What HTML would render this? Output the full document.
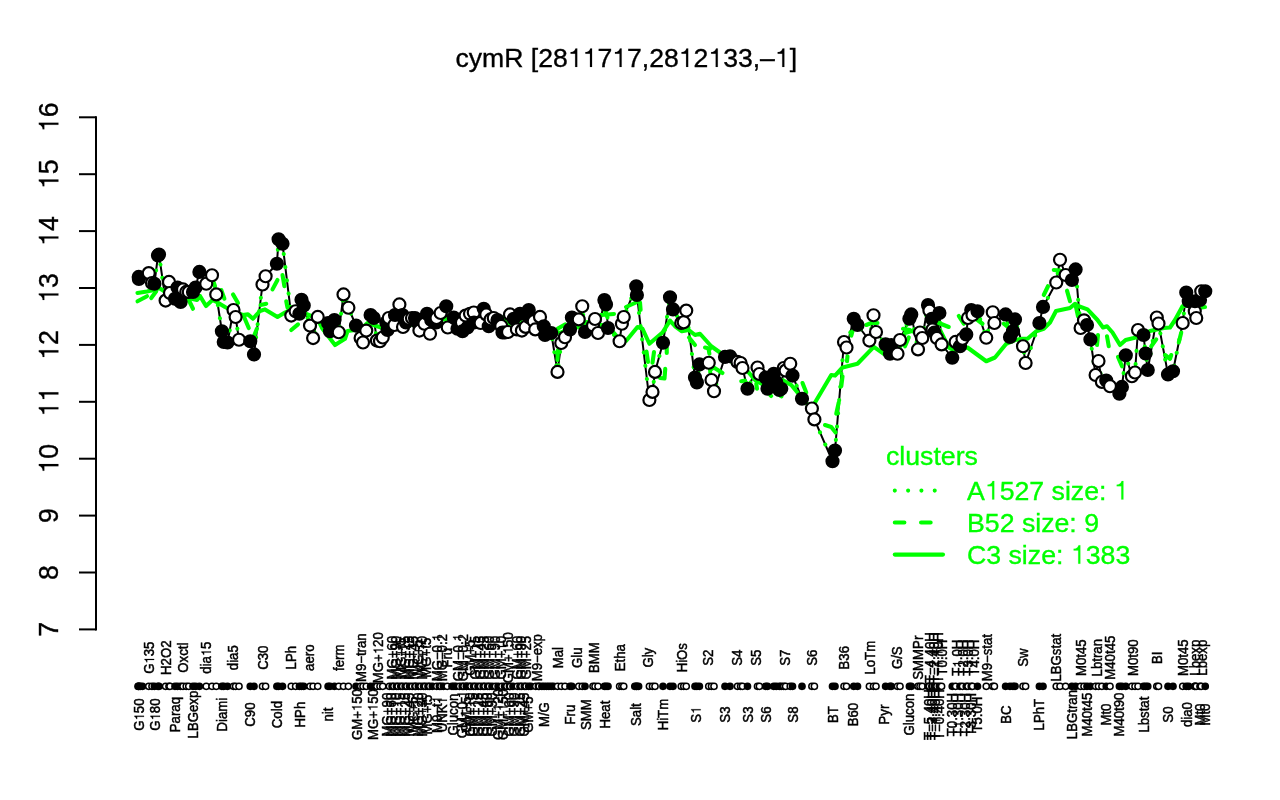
<!DOCTYPE html>
<html><head><meta charset="utf-8"><title>cymR</title>
<style>html,body{margin:0;padding:0;background:#fff;}body{width:1280px;height:800px;overflow:hidden;}svg{display:block;will-change:transform;}text{font-family:"Liberation Sans", sans-serif;}</style>
</head><body>
<svg width="1280" height="800" viewBox="0 0 1280 800">
<rect x="0" y="0" width="1280" height="800" fill="#ffffff"/>
<g transform="translate(626.30 66.90)" fill="#000" stroke="#000" stroke-width="0.35" font-size="26.6" text-anchor="start" style="font-kerning:none"><text x="-170.81" y="0" xml:space="preserve">cymR [28</text><path transform="translate(-58.47 0) scale(0.02660)" stroke-width="5.26" d="M104 -498 L104 -556 C190 -556 258 -590 290 -692 L354 -692 L354 0 L276 0 L276 -498 Z"/><path transform="translate(-43.68 0) scale(0.02660)" stroke-width="5.26" d="M104 -498 L104 -556 C190 -556 258 -590 290 -692 L354 -692 L354 0 L276 0 L276 -498 Z"/><text x="-28.89" y="0" xml:space="preserve">7</text><path transform="translate(-14.09 0) scale(0.02660)" stroke-width="5.26" d="M104 -498 L104 -556 C190 -556 258 -590 290 -692 L354 -692 L354 0 L276 0 L276 -498 Z"/><text x="0.70" y="0" xml:space="preserve">7,28</text><path transform="translate(52.47 0) scale(0.02660)" stroke-width="5.26" d="M104 -498 L104 -556 C190 -556 258 -590 290 -692 L354 -692 L354 0 L276 0 L276 -498 Z"/><text x="67.27" y="0" xml:space="preserve">2</text><path transform="translate(82.06 0) scale(0.02660)" stroke-width="5.26" d="M104 -498 L104 -556 C190 -556 258 -590 290 -692 L354 -692 L354 0 L276 0 L276 -498 Z"/><text x="96.85" y="0" xml:space="preserve">33,–</text><path transform="translate(148.62 0) scale(0.02660)" stroke-width="5.26" d="M104 -498 L104 -556 C190 -556 258 -590 290 -692 L354 -692 L354 0 L276 0 L276 -498 Z"/><text x="163.42" y="0" xml:space="preserve">]</text></g>
<g stroke="#000" stroke-width="2" fill="none" stroke-linecap="butt">
<path d="M96.0 116.30 V630.40"/>
<path d="M79 629.40 H96.0"/>
<path d="M79 572.50 H96.0"/>
<path d="M79 515.60 H96.0"/>
<path d="M79 458.70 H96.0"/>
<path d="M79 401.80 H96.0"/>
<path d="M79 344.90 H96.0"/>
<path d="M79 288.00 H96.0"/>
<path d="M79 231.10 H96.0"/>
<path d="M79 174.20 H96.0"/>
<path d="M79 117.30 H96.0"/>
</g>
<g transform="translate(58.40 629.40) rotate(-90) scale(1 1.06)" fill="#000" stroke="#000" stroke-width="0.35" font-size="26.7" text-anchor="start" style="font-kerning:none"><text x="-7.42" y="0" xml:space="preserve">7</text></g>
<g transform="translate(58.40 572.50) rotate(-90) scale(1 1.06)" fill="#000" stroke="#000" stroke-width="0.35" font-size="26.7" text-anchor="start" style="font-kerning:none"><text x="-7.42" y="0" xml:space="preserve">8</text></g>
<g transform="translate(58.40 515.60) rotate(-90) scale(1 1.06)" fill="#000" stroke="#000" stroke-width="0.35" font-size="26.7" text-anchor="start" style="font-kerning:none"><text x="-7.42" y="0" xml:space="preserve">9</text></g>
<g transform="translate(58.40 458.70) rotate(-90) scale(1 1.06)" fill="#000" stroke="#000" stroke-width="0.35" font-size="26.7" text-anchor="start" style="font-kerning:none"><path transform="translate(-14.85 0) scale(0.02670)" stroke-width="5.24" d="M104 -498 L104 -556 C190 -556 258 -590 290 -692 L354 -692 L354 0 L276 0 L276 -498 Z"/><text x="0.00" y="0" xml:space="preserve">0</text></g>
<g transform="translate(58.40 401.80) rotate(-90) scale(1 1.06)" fill="#000" stroke="#000" stroke-width="0.35" font-size="26.7" text-anchor="start" style="font-kerning:none"><path transform="translate(-14.85 0) scale(0.02670)" stroke-width="5.24" d="M104 -498 L104 -556 C190 -556 258 -590 290 -692 L354 -692 L354 0 L276 0 L276 -498 Z"/><path transform="translate(0.00 0) scale(0.02670)" stroke-width="5.24" d="M104 -498 L104 -556 C190 -556 258 -590 290 -692 L354 -692 L354 0 L276 0 L276 -498 Z"/></g>
<g transform="translate(58.40 344.90) rotate(-90) scale(1 1.06)" fill="#000" stroke="#000" stroke-width="0.35" font-size="26.7" text-anchor="start" style="font-kerning:none"><path transform="translate(-14.85 0) scale(0.02670)" stroke-width="5.24" d="M104 -498 L104 -556 C190 -556 258 -590 290 -692 L354 -692 L354 0 L276 0 L276 -498 Z"/><text x="0.00" y="0" xml:space="preserve">2</text></g>
<g transform="translate(58.40 288.00) rotate(-90) scale(1 1.06)" fill="#000" stroke="#000" stroke-width="0.35" font-size="26.7" text-anchor="start" style="font-kerning:none"><path transform="translate(-14.85 0) scale(0.02670)" stroke-width="5.24" d="M104 -498 L104 -556 C190 -556 258 -590 290 -692 L354 -692 L354 0 L276 0 L276 -498 Z"/><text x="0.00" y="0" xml:space="preserve">3</text></g>
<g transform="translate(58.40 231.10) rotate(-90) scale(1 1.06)" fill="#000" stroke="#000" stroke-width="0.35" font-size="26.7" text-anchor="start" style="font-kerning:none"><path transform="translate(-14.85 0) scale(0.02670)" stroke-width="5.24" d="M104 -498 L104 -556 C190 -556 258 -590 290 -692 L354 -692 L354 0 L276 0 L276 -498 Z"/><text x="0.00" y="0" xml:space="preserve">4</text></g>
<g transform="translate(58.40 174.20) rotate(-90) scale(1 1.06)" fill="#000" stroke="#000" stroke-width="0.35" font-size="26.7" text-anchor="start" style="font-kerning:none"><path transform="translate(-14.85 0) scale(0.02670)" stroke-width="5.24" d="M104 -498 L104 -556 C190 -556 258 -590 290 -692 L354 -692 L354 0 L276 0 L276 -498 Z"/><text x="0.00" y="0" xml:space="preserve">5</text></g>
<g transform="translate(58.40 117.30) rotate(-90) scale(1 1.06)" fill="#000" stroke="#000" stroke-width="0.35" font-size="26.7" text-anchor="start" style="font-kerning:none"><path transform="translate(-14.85 0) scale(0.02670)" stroke-width="5.24" d="M104 -498 L104 -556 C190 -556 258 -590 290 -692 L354 -692 L354 0 L276 0 L276 -498 Z"/><text x="0.00" y="0" xml:space="preserve">6</text></g>
<path d="M138.70 276.90 L138.90 279.00 L148.75 273.10 L152.00 283.00 L154.40 283.75 L158.00 255.50 L159.00 254.50 L165.60 300.60 L169.00 281.90 L170.00 293.00 L175.00 298.75 L177.50 287.50 L180.60 301.90 L183.00 289.40 L186.25 291.90 L188.75 292.00 L193.00 291.90 L195.60 287.50 L199.40 271.90 L206.25 283.75 L212.00 275.25 L216.25 294.40 L221.90 331.25 L223.75 341.90 L227.50 342.50 L233.50 310.00 L235.60 317.00 L239.00 339.75 L250.25 341.25 L254.00 354.40 L262.50 284.50 L265.60 276.25 L276.90 263.75 L278.60 239.30 L282.50 243.75 L291.25 315.60 L295.60 311.25 L299.40 313.75 L301.50 299.75 L303.75 305.60 L310.00 325.60 L313.10 338.10 L317.75 316.90 L328.10 323.10 L330.00 331.25 L334.40 320.00 L338.75 332.25 L343.50 294.40 L348.40 307.75 L356.00 325.60 L360.60 338.00 L363.00 342.50 L366.25 330.60 L370.60 315.00 L373.75 318.00 L376.90 340.60 L380.00 341.25 L382.75 337.50 L386.25 322.50 L387.50 330.00 L388.75 318.00 L394.40 325.00 L395.00 315.00 L399.40 304.40 L402.50 315.00 L403.00 327.00 L406.00 322.50 L408.75 318.75 L412.00 318.00 L415.00 318.00 L417.50 322.50 L419.40 330.60 L424.40 323.75 L427.00 313.75 L430.00 333.75 L431.25 320.00 L436.25 322.50 L436.50 318.00 L440.60 313.00 L446.25 306.25 L447.75 327.50 L453.75 317.50 L457.50 328.75 L461.90 322.50 L462.50 331.25 L465.60 315.60 L467.50 327.50 L470.00 313.75 L473.75 312.50 L474.00 322.50 L480.60 323.00 L483.75 308.75 L486.25 314.40 L488.75 326.25 L490.60 319.40 L493.75 318.00 L497.50 320.00 L501.25 326.00 L502.50 332.50 L505.00 332.50 L508.00 332.00 L510.00 314.40 L513.75 318.75 L516.90 329.40 L520.00 313.75 L521.90 330.60 L525.60 326.90 L528.75 310.00 L529.40 317.50 L533.75 321.25 L535.25 329.40 L540.00 316.90 L543.75 326.25 L545.00 335.00 L551.25 333.00 L557.50 371.90 L561.25 343.00 L565.00 337.25 L570.00 329.40 L571.90 317.50 L578.75 319.40 L582.25 306.25 L585.00 331.90 L593.00 325.60 L595.00 319.00 L598.00 333.00 L604.40 300.00 L606.00 304.40 L608.00 328.00 L619.60 341.25 L621.90 323.75 L623.75 317.00 L636.25 286.25 L636.90 295.00 L649.40 400.00 L652.50 391.90 L655.00 371.90 L663.00 342.75 L670.00 297.25 L673.00 309.40 L681.25 323.00 L683.75 322.25 L686.25 310.60 L695.00 377.50 L696.90 382.50 L699.40 364.40 L708.75 362.75 L711.50 380.00 L714.00 391.25 L725.00 356.90 L730.00 356.25 L737.50 361.90 L740.60 363.00 L742.50 368.00 L747.50 388.75 L757.50 367.50 L759.40 374.00 L765.60 377.50 L767.50 388.75 L773.75 373.75 L776.25 382.00 L779.40 390.00 L781.25 388.75 L783.75 368.00 L785.60 370.60 L790.25 363.75 L792.50 375.60 L802.00 398.75 L811.90 408.50 L814.40 419.40 L832.50 461.25 L835.00 450.60 L844.00 342.00 L846.50 347.50 L853.75 318.75 L857.50 325.00 L869.40 340.60 L873.50 315.25 L876.00 332.00 L885.60 344.40 L890.00 353.75 L891.25 345.00 L897.50 353.75 L900.00 340.00 L909.40 318.75 L911.25 314.40 L918.00 349.40 L920.00 332.50 L922.25 338.00 L928.00 305.00 L929.40 310.60 L931.90 318.75 L932.50 329.40 L934.40 332.50 L936.90 338.00 L939.40 313.00 L941.60 344.40 L952.25 357.75 L955.60 341.90 L960.00 346.25 L962.50 338.75 L966.25 334.40 L968.00 318.00 L971.25 310.00 L972.50 315.00 L977.50 311.25 L986.25 337.75 L992.75 312.25 L994.40 323.00 L1005.60 314.40 L1010.00 336.90 L1013.00 331.25 L1015.00 319.40 L1023.00 346.25 L1025.60 363.00 L1039.40 323.00 L1043.00 306.90 L1056.25 282.50 L1060.00 259.75 L1065.60 275.00 L1071.90 280.00 L1075.60 269.40 L1080.60 328.00 L1084.00 320.30 L1087.00 325.00 L1090.40 339.40 L1095.60 375.00 L1098.50 361.00 L1101.90 381.90 L1106.25 380.60 L1110.00 386.25 L1119.40 393.75 L1121.90 386.90 L1125.80 355.25 L1131.90 376.25 L1135.00 372.50 L1138.00 330.00 L1143.50 335.00 L1145.60 353.50 L1147.75 370.00 L1156.80 317.50 L1158.50 323.50 L1168.00 374.40 L1173.00 371.25 L1182.70 323.00 L1186.25 292.50 L1188.75 301.25 L1194.75 311.25 L1195.00 301.25 L1196.25 318.00 L1200.00 300.00 L1201.25 291.25 L1205.25 291.25" fill="none" stroke="#000" stroke-width="2.0" stroke-linejoin="round" stroke-linecap="round"/>
<path d="M138.70 276.90 L138.90 279.00 L148.75 273.10 L152.00 283.00 L154.40 283.75 L158.00 255.50 L159.00 254.50 L165.60 300.60 L169.00 281.90 L170.00 293.00 L175.00 298.75 L177.50 287.50 L180.60 301.90 L183.00 289.40 L186.25 291.90 L188.75 292.00 L193.00 291.90 L195.60 287.50 L199.40 271.90 L206.25 283.75 L212.00 275.25 L216.25 294.40 L221.90 331.25 L223.75 341.90 L227.50 342.50 L233.50 310.00 L235.60 317.00 L239.00 339.75 L250.25 341.25 L254.00 354.40 L262.50 284.50 L265.60 276.25 L276.90 263.75 L278.60 239.30 L282.50 243.75 L291.25 315.60 L295.60 311.25 L299.40 313.75 L301.50 299.75 L303.75 305.60 L310.00 325.60 L313.10 338.10 L317.75 316.90 L328.10 323.10 L330.00 331.25 L334.40 320.00 L338.75 332.25 L343.50 294.40 L348.40 307.75 L356.00 325.60 L360.60 338.00 L363.00 342.50 L366.25 330.60 L370.60 315.00 L373.75 318.00 L376.90 340.60 L380.00 341.25 L382.75 337.50 L386.25 322.50 L387.50 330.00 L388.75 318.00 L394.40 325.00 L395.00 315.00 L399.40 304.40 L402.50 315.00 L403.00 327.00 L406.00 322.50 L408.75 318.75 L412.00 318.00 L415.00 318.00 L417.50 322.50 L419.40 330.60 L424.40 323.75 L427.00 313.75 L430.00 333.75 L431.25 320.00 L436.25 322.50 L436.50 318.00 L440.60 313.00 L446.25 306.25 L447.75 327.50 L453.75 317.50 L457.50 328.75 L461.90 322.50 L462.50 331.25 L465.60 315.60 L467.50 327.50 L470.00 313.75 L473.75 312.50 L474.00 322.50 L480.60 323.00 L483.75 308.75 L486.25 314.40 L488.75 326.25 L490.60 319.40 L493.75 318.00 L497.50 320.00 L501.25 326.00 L502.50 332.50 L505.00 332.50 L508.00 332.00 L510.00 314.40 L513.75 318.75 L516.90 329.40 L520.00 313.75 L521.90 330.60 L525.60 326.90 L528.75 310.00 L529.40 317.50 L533.75 321.25 L535.25 329.40 L540.00 316.90 L543.75 326.25 L545.00 335.00 L551.25 333.00 L557.50 371.90 L561.25 343.00 L565.00 337.25 L570.00 329.40 L571.90 317.50 L578.75 319.40 L582.25 306.25 L585.00 331.90 L593.00 325.60 L595.00 319.00 L598.00 333.00 L604.40 300.00 L606.00 304.40 L608.00 328.00 L619.60 341.25 L621.90 323.75 L623.75 317.00 L636.25 286.25 L636.90 295.00 L649.40 400.00 L652.50 391.90 L655.00 371.90 L663.00 342.75 L670.00 297.25 L673.00 309.40 L681.25 323.00 L683.75 322.25 L686.25 310.60 L695.00 377.50 L696.90 382.50 L699.40 364.40 L708.75 362.75 L711.50 380.00 L714.00 391.25 L725.00 356.90 L730.00 356.25 L737.50 361.90 L740.60 363.00 L742.50 368.00 L747.50 388.75 L757.50 367.50 L759.40 374.00 L765.60 377.50 L767.50 388.75 L773.75 373.75 L776.25 382.00 L779.40 390.00 L781.25 388.75 L783.75 368.00 L785.60 370.60 L790.25 363.75 L792.50 375.60 L802.00 398.75 L811.90 408.50 L814.40 419.40 L832.50 461.25 L835.00 450.60 L844.00 342.00 L846.50 347.50 L853.75 318.75 L857.50 325.00 L869.40 340.60 L873.50 315.25 L876.00 332.00 L885.60 344.40 L890.00 353.75 L891.25 345.00 L897.50 353.75 L900.00 340.00 L909.40 318.75 L911.25 314.40 L918.00 349.40 L920.00 332.50 L922.25 338.00 L928.00 305.00 L929.40 310.60 L931.90 318.75 L932.50 329.40 L934.40 332.50 L936.90 338.00 L939.40 313.00 L941.60 344.40 L952.25 357.75 L955.60 341.90 L960.00 346.25 L962.50 338.75 L966.25 334.40 L968.00 318.00 L971.25 310.00 L972.50 315.00 L977.50 311.25 L986.25 337.75 L992.75 312.25 L994.40 323.00 L1005.60 314.40 L1010.00 336.90 L1013.00 331.25 L1015.00 319.40 L1023.00 346.25 L1025.60 363.00 L1039.40 323.00 L1043.00 306.90 L1056.25 282.50 L1060.00 259.75 L1065.60 275.00 L1071.90 280.00 L1075.60 269.40 L1080.60 328.00 L1084.00 320.30 L1087.00 325.00 L1090.40 339.40 L1095.60 375.00 L1098.50 361.00 L1101.90 381.90 L1106.25 380.60 L1110.00 386.25 L1119.40 393.75 L1121.90 386.90 L1125.80 355.25 L1131.90 376.25 L1135.00 372.50 L1138.00 330.00 L1143.50 335.00 L1145.60 353.50 L1147.75 370.00 L1156.80 317.50 L1158.50 323.50 L1168.00 374.40 L1173.00 371.25 L1182.70 323.00 L1186.25 292.50 L1188.75 301.25 L1194.75 311.25 L1195.00 301.25 L1196.25 318.00 L1200.00 300.00 L1201.25 291.25 L1205.25 291.25" fill="none" stroke="#00ff00" stroke-width="4.1" stroke-linecap="round" stroke-linejoin="round" stroke-dasharray="0.01 13.3"/>
<path d="M137.50 301.25 L147.00 296.25" fill="none" stroke="#00ff00" stroke-width="4.1" stroke-linecap="round" stroke-linejoin="round"/>
<path d="M151.25 298.00 L156.25 291.25" fill="none" stroke="#00ff00" stroke-width="4.1" stroke-linecap="round" stroke-linejoin="round"/>
<path d="M188.75 300.00 L193.00 308.75" fill="none" stroke="#00ff00" stroke-width="4.1" stroke-linecap="round" stroke-linejoin="round"/>
<path d="M213.75 282.50 L215.00 286.25" fill="none" stroke="#00ff00" stroke-width="4.1" stroke-linecap="round" stroke-linejoin="round"/>
<path d="M221.25 290.00 L224.40 298.75" fill="none" stroke="#00ff00" stroke-width="4.1" stroke-linecap="round" stroke-linejoin="round"/>
<path d="M233.00 294.40 L238.00 303.00" fill="none" stroke="#00ff00" stroke-width="4.1" stroke-linecap="round" stroke-linejoin="round"/>
<path d="M243.75 316.25 L248.75 328.00" fill="none" stroke="#00ff00" stroke-width="4.1" stroke-linecap="round" stroke-linejoin="round"/>
<path d="M254.40 335.00 L256.90 328.75" fill="none" stroke="#00ff00" stroke-width="4.1" stroke-linecap="round" stroke-linejoin="round"/>
<path d="M260.60 305.00 L266.25 303.75" fill="none" stroke="#00ff00" stroke-width="4.1" stroke-linecap="round" stroke-linejoin="round"/>
<path d="M272.50 289.40 L277.50 280.00" fill="none" stroke="#00ff00" stroke-width="4.1" stroke-linecap="round" stroke-linejoin="round"/>
<path d="M282.50 275.00 L284.40 286.25" fill="none" stroke="#00ff00" stroke-width="4.1" stroke-linecap="round" stroke-linejoin="round"/>
<path d="M286.25 301.25 L287.50 307.50" fill="none" stroke="#00ff00" stroke-width="4.1" stroke-linecap="round" stroke-linejoin="round"/>
<path d="M291.25 330.00 L298.00 324.40" fill="none" stroke="#00ff00" stroke-width="4.1" stroke-linecap="round" stroke-linejoin="round"/>
<path d="M557.50 328.75 L565.00 324.40" fill="none" stroke="#00ff00" stroke-width="4.1" stroke-linecap="round" stroke-linejoin="round"/>
<path d="M558.00 350.00 L557.50 360.00" fill="none" stroke="#00ff00" stroke-width="4.1" stroke-linecap="round" stroke-linejoin="round"/>
<path d="M601.00 315.00 L614.00 314.00" fill="none" stroke="#00ff00" stroke-width="4.1" stroke-linecap="round" stroke-linejoin="round"/>
<path d="M605.00 311.00 L607.50 317.50" fill="none" stroke="#00ff00" stroke-width="4.1" stroke-linecap="round" stroke-linejoin="round"/>
<path d="M626.00 307.00 L636.00 302.50" fill="none" stroke="#00ff00" stroke-width="4.1" stroke-linecap="round" stroke-linejoin="round"/>
<path d="M640.00 302.50 L640.60 310.00" fill="none" stroke="#00ff00" stroke-width="4.1" stroke-linecap="round" stroke-linejoin="round"/>
<path d="M646.50 351.50 L648.00 362.00" fill="none" stroke="#00ff00" stroke-width="4.1" stroke-linecap="round" stroke-linejoin="round"/>
<path d="M654.00 352.00 L652.50 362.75" fill="none" stroke="#00ff00" stroke-width="4.1" stroke-linecap="round" stroke-linejoin="round"/>
<path d="M666.75 347.75 L666.75 353.00" fill="none" stroke="#00ff00" stroke-width="4.1" stroke-linecap="round" stroke-linejoin="round"/>
<path d="M665.25 368.75 L664.50 378.50 L660.00 378.00" fill="none" stroke="#00ff00" stroke-width="4.1" stroke-linecap="round" stroke-linejoin="round"/>
<path d="M689.00 337.50 L695.00 345.00" fill="none" stroke="#00ff00" stroke-width="4.1" stroke-linecap="round" stroke-linejoin="round"/>
<path d="M705.00 347.50 L710.00 348.75" fill="none" stroke="#00ff00" stroke-width="4.1" stroke-linecap="round" stroke-linejoin="round"/>
<path d="M708.75 350.00 L709.40 353.75" fill="none" stroke="#00ff00" stroke-width="4.1" stroke-linecap="round" stroke-linejoin="round"/>
<path d="M710.00 370.00 L713.75 367.50 L722.50 373.00" fill="none" stroke="#00ff00" stroke-width="4.1" stroke-linecap="round" stroke-linejoin="round"/>
<path d="M741.25 381.25 L745.00 380.60" fill="none" stroke="#00ff00" stroke-width="4.1" stroke-linecap="round" stroke-linejoin="round"/>
<path d="M756.25 383.75 L757.00 388.75" fill="none" stroke="#00ff00" stroke-width="4.1" stroke-linecap="round" stroke-linejoin="round"/>
<path d="M770.30 395.20 L771.20 396.00" fill="none" stroke="#00ff00" stroke-width="4.1" stroke-linecap="round" stroke-linejoin="round"/>
<path d="M780.40 395.80 L781.60 396.30" fill="none" stroke="#00ff00" stroke-width="4.1" stroke-linecap="round" stroke-linejoin="round"/>
<path d="M802.50 383.00 L806.25 392.50" fill="none" stroke="#00ff00" stroke-width="4.1" stroke-linecap="round" stroke-linejoin="round"/>
<path d="M825.00 425.00 L831.25 427.00 L835.60 432.50" fill="none" stroke="#00ff00" stroke-width="4.1" stroke-linecap="round" stroke-linejoin="round"/>
<path d="M836.25 413.75 L838.75 402.50" fill="none" stroke="#00ff00" stroke-width="4.1" stroke-linecap="round" stroke-linejoin="round"/>
<path d="M841.25 386.25 L842.50 376.25" fill="none" stroke="#00ff00" stroke-width="4.1" stroke-linecap="round" stroke-linejoin="round"/>
<path d="M847.50 356.25 L847.00 361.25" fill="none" stroke="#00ff00" stroke-width="4.1" stroke-linecap="round" stroke-linejoin="round"/>
<path d="M852.50 331.25 L851.25 335.60" fill="none" stroke="#00ff00" stroke-width="4.1" stroke-linecap="round" stroke-linejoin="round"/>
<path d="M866.25 325.00 L871.25 323.00 L877.50 323.00" fill="none" stroke="#00ff00" stroke-width="4.1" stroke-linecap="round" stroke-linejoin="round"/>
<path d="M903.00 328.75 L910.00 330.00" fill="none" stroke="#00ff00" stroke-width="4.1" stroke-linecap="round" stroke-linejoin="round"/>
<path d="M905.00 346.25 L908.75 337.50" fill="none" stroke="#00ff00" stroke-width="4.1" stroke-linecap="round" stroke-linejoin="round"/>
<path d="M937.50 322.50 L948.75 327.00" fill="none" stroke="#00ff00" stroke-width="4.1" stroke-linecap="round" stroke-linejoin="round"/>
<path d="M958.75 316.00 L963.75 323.75" fill="none" stroke="#00ff00" stroke-width="4.1" stroke-linecap="round" stroke-linejoin="round"/>
<path d="M977.50 320.00 L982.50 323.75" fill="none" stroke="#00ff00" stroke-width="4.1" stroke-linecap="round" stroke-linejoin="round"/>
<path d="M1003.75 323.75 L1010.00 328.75" fill="none" stroke="#00ff00" stroke-width="4.1" stroke-linecap="round" stroke-linejoin="round"/>
<path d="M1043.75 295.00 L1048.00 286.25" fill="none" stroke="#00ff00" stroke-width="4.1" stroke-linecap="round" stroke-linejoin="round"/>
<path d="M1053.75 270.00 L1060.00 270.60" fill="none" stroke="#00ff00" stroke-width="4.1" stroke-linecap="round" stroke-linejoin="round"/>
<path d="M1067.00 290.60 L1070.00 301.25" fill="none" stroke="#00ff00" stroke-width="4.1" stroke-linecap="round" stroke-linejoin="round"/>
<path d="M1075.60 305.00 L1078.00 316.25" fill="none" stroke="#00ff00" stroke-width="4.1" stroke-linecap="round" stroke-linejoin="round"/>
<path d="M1098.00 335.00 L1097.00 345.00" fill="none" stroke="#00ff00" stroke-width="4.1" stroke-linecap="round" stroke-linejoin="round"/>
<path d="M1107.00 336.25 L1108.75 346.25" fill="none" stroke="#00ff00" stroke-width="4.1" stroke-linecap="round" stroke-linejoin="round"/>
<path d="M1118.00 357.00 L1122.00 366.25" fill="none" stroke="#00ff00" stroke-width="4.1" stroke-linecap="round" stroke-linejoin="round"/>
<path d="M1156.25 339.40 L1151.25 346.25" fill="none" stroke="#00ff00" stroke-width="4.1" stroke-linecap="round" stroke-linejoin="round"/>
<path d="M1165.00 355.00 L1170.00 358.75 L1171.25 355.00" fill="none" stroke="#00ff00" stroke-width="4.1" stroke-linecap="round" stroke-linejoin="round"/>
<path d="M1178.75 342.50 L1181.25 332.50" fill="none" stroke="#00ff00" stroke-width="4.1" stroke-linecap="round" stroke-linejoin="round"/>
<path d="M137.50 293.00 L147.00 291.50 L154.00 290.00 L159.00 288.00 L164.00 291.00 L175.00 296.00 L188.00 298.00 L197.00 300.00 L200.00 296.00 L206.00 306.00 L212.50 300.00 L217.50 302.50 L225.00 307.00 L233.00 311.00 L242.50 315.00 L248.00 314.40 L253.00 318.75 L260.00 311.00 L265.00 309.40 L277.50 317.00 L285.00 312.50 L290.00 310.00 L300.00 311.00 L307.50 314.40 L317.50 318.75 L322.50 328.75 L335.00 345.00 L345.00 338.75 L347.50 331.00 L355.00 330.00 L362.00 328.00 L367.50 323.00 L381.00 327.50 L395.00 323.00 L410.00 325.00 L430.00 322.00 L446.00 319.00 L460.00 324.00 L480.00 321.00 L503.75 317.50 L510.00 323.75 L525.00 322.00 L540.00 325.00 L550.00 330.00 L560.00 333.00 L570.00 328.00 L580.00 327.00 L587.00 322.00 L595.00 324.00 L608.00 326.00 L614.00 333.00 L620.00 340.00 L626.00 341.00 L637.50 327.00 L642.50 328.75 L649.40 343.75 L662.50 332.50 L670.00 320.60 L675.00 326.25 L681.90 331.25 L688.75 330.00 L695.00 335.00 L700.00 333.75 L711.25 346.25 L720.00 352.50 L728.00 360.00 L740.00 366.00 L748.75 372.50 L755.00 380.00 L762.00 384.00 L770.00 383.00 L776.00 381.00 L782.50 380.00 L791.25 385.00 L797.50 392.50 L803.00 399.00 L808.00 405.00 L812.00 407.00 L815.00 402.50 L831.25 375.00 L835.00 375.60 L842.50 367.50 L857.50 363.75 L873.75 346.90 L883.75 353.75 L890.00 356.00 L898.00 352.00 L905.00 333.00 L912.00 331.00 L920.00 335.00 L930.00 333.00 L940.00 330.00 L948.75 347.50 L955.00 351.00 L960.00 349.00 L967.50 347.50 L986.25 361.25 L995.00 357.50 L1006.25 343.75 L1015.00 340.00 L1022.50 338.75 L1027.50 338.75 L1036.25 331.25 L1043.75 328.75 L1050.00 322.50 L1056.00 311.00 L1070.00 308.00 L1075.00 303.75 L1078.75 306.25 L1087.50 309.40 L1097.50 320.00 L1103.00 327.50 L1107.00 326.25 L1112.50 332.50 L1120.00 345.00 L1125.60 340.00 L1133.75 338.00 L1142.00 335.00 L1150.00 331.00 L1163.75 328.00 L1170.00 327.50 L1175.00 320.00 L1182.50 306.25 L1190.00 305.00 L1198.00 308.00 L1205.00 307.00" fill="none" stroke="#00ff00" stroke-width="4.1" stroke-linecap="round" stroke-linejoin="round"/>
<g stroke="#000" stroke-width="2.2">
<circle cx="138.70" cy="276.90" r="6.0" fill="#000"/>
<circle cx="138.90" cy="279.00" r="6.0" fill="#000"/>
<circle cx="148.75" cy="273.10" r="6.0" fill="#fff"/>
<circle cx="152.00" cy="283.00" r="6.0" fill="#fff"/>
<circle cx="154.40" cy="283.75" r="6.0" fill="#000"/>
<circle cx="158.00" cy="255.50" r="6.0" fill="#000"/>
<circle cx="159.00" cy="254.50" r="6.0" fill="#000"/>
<circle cx="165.60" cy="300.60" r="6.0" fill="#fff"/>
<circle cx="169.00" cy="281.90" r="6.0" fill="#fff"/>
<circle cx="170.00" cy="293.00" r="6.0" fill="#fff"/>
<circle cx="175.00" cy="298.75" r="6.0" fill="#000"/>
<circle cx="177.50" cy="287.50" r="6.0" fill="#000"/>
<circle cx="180.60" cy="301.90" r="6.0" fill="#000"/>
<circle cx="183.00" cy="289.40" r="6.0" fill="#fff"/>
<circle cx="186.25" cy="291.90" r="6.0" fill="#fff"/>
<circle cx="188.75" cy="292.00" r="6.0" fill="#fff"/>
<circle cx="193.00" cy="291.90" r="6.0" fill="#000"/>
<circle cx="195.60" cy="287.50" r="6.0" fill="#000"/>
<circle cx="199.40" cy="271.90" r="6.0" fill="#000"/>
<circle cx="206.25" cy="283.75" r="6.0" fill="#fff"/>
<circle cx="212.00" cy="275.25" r="6.0" fill="#fff"/>
<circle cx="216.25" cy="294.40" r="6.0" fill="#fff"/>
<circle cx="221.90" cy="331.25" r="6.0" fill="#000"/>
<circle cx="223.75" cy="341.90" r="6.0" fill="#000"/>
<circle cx="227.50" cy="342.50" r="6.0" fill="#000"/>
<circle cx="233.50" cy="310.00" r="6.0" fill="#fff"/>
<circle cx="235.60" cy="317.00" r="6.0" fill="#fff"/>
<circle cx="239.00" cy="339.75" r="6.0" fill="#fff"/>
<circle cx="250.25" cy="341.25" r="6.0" fill="#000"/>
<circle cx="254.00" cy="354.40" r="6.0" fill="#000"/>
<circle cx="262.50" cy="284.50" r="6.0" fill="#fff"/>
<circle cx="265.60" cy="276.25" r="6.0" fill="#fff"/>
<circle cx="276.90" cy="263.75" r="6.0" fill="#000"/>
<circle cx="278.60" cy="239.30" r="6.0" fill="#000"/>
<circle cx="282.50" cy="243.75" r="6.0" fill="#000"/>
<circle cx="291.25" cy="315.60" r="6.0" fill="#fff"/>
<circle cx="295.60" cy="311.25" r="6.0" fill="#fff"/>
<circle cx="299.40" cy="313.75" r="6.0" fill="#000"/>
<circle cx="301.50" cy="299.75" r="6.0" fill="#000"/>
<circle cx="303.75" cy="305.60" r="6.0" fill="#000"/>
<circle cx="310.00" cy="325.60" r="6.0" fill="#fff"/>
<circle cx="313.10" cy="338.10" r="6.0" fill="#fff"/>
<circle cx="317.75" cy="316.90" r="6.0" fill="#fff"/>
<circle cx="328.10" cy="323.10" r="6.0" fill="#000"/>
<circle cx="330.00" cy="331.25" r="6.0" fill="#000"/>
<circle cx="334.40" cy="320.00" r="6.0" fill="#000"/>
<circle cx="338.75" cy="332.25" r="6.0" fill="#fff"/>
<circle cx="343.50" cy="294.40" r="6.0" fill="#fff"/>
<circle cx="348.40" cy="307.75" r="6.0" fill="#fff"/>
<circle cx="356.00" cy="325.60" r="6.0" fill="#000"/>
<circle cx="360.60" cy="338.00" r="6.0" fill="#fff"/>
<circle cx="363.00" cy="342.50" r="6.0" fill="#fff"/>
<circle cx="366.25" cy="330.60" r="6.0" fill="#fff"/>
<circle cx="370.60" cy="315.00" r="6.0" fill="#000"/>
<circle cx="373.75" cy="318.00" r="6.0" fill="#000"/>
<circle cx="376.90" cy="340.60" r="6.0" fill="#fff"/>
<circle cx="380.00" cy="341.25" r="6.0" fill="#fff"/>
<circle cx="382.75" cy="337.50" r="6.0" fill="#fff"/>
<circle cx="386.25" cy="322.50" r="6.0" fill="#000"/>
<circle cx="387.50" cy="330.00" r="6.0" fill="#000"/>
<circle cx="388.75" cy="318.00" r="6.0" fill="#fff"/>
<circle cx="394.40" cy="325.00" r="6.0" fill="#fff"/>
<circle cx="395.00" cy="315.00" r="6.0" fill="#000"/>
<circle cx="399.40" cy="304.40" r="6.0" fill="#fff"/>
<circle cx="402.50" cy="315.00" r="6.0" fill="#000"/>
<circle cx="403.00" cy="327.00" r="6.0" fill="#fff"/>
<circle cx="406.00" cy="322.50" r="6.0" fill="#000"/>
<circle cx="408.75" cy="318.75" r="6.0" fill="#fff"/>
<circle cx="412.00" cy="318.00" r="6.0" fill="#fff"/>
<circle cx="415.00" cy="318.00" r="6.0" fill="#000"/>
<circle cx="417.50" cy="322.50" r="6.0" fill="#000"/>
<circle cx="419.40" cy="330.60" r="6.0" fill="#fff"/>
<circle cx="424.40" cy="323.75" r="6.0" fill="#fff"/>
<circle cx="427.00" cy="313.75" r="6.0" fill="#000"/>
<circle cx="430.00" cy="333.75" r="6.0" fill="#fff"/>
<circle cx="431.25" cy="320.00" r="6.0" fill="#000"/>
<circle cx="436.25" cy="322.50" r="6.0" fill="#000"/>
<circle cx="436.50" cy="318.00" r="6.0" fill="#fff"/>
<circle cx="440.60" cy="313.00" r="6.0" fill="#fff"/>
<circle cx="446.25" cy="306.25" r="6.0" fill="#000"/>
<circle cx="447.75" cy="327.50" r="6.0" fill="#fff"/>
<circle cx="453.75" cy="317.50" r="6.0" fill="#000"/>
<circle cx="457.50" cy="328.75" r="6.0" fill="#000"/>
<circle cx="461.90" cy="322.50" r="6.0" fill="#fff"/>
<circle cx="462.50" cy="331.25" r="6.0" fill="#000"/>
<circle cx="465.60" cy="315.60" r="6.0" fill="#fff"/>
<circle cx="467.50" cy="327.50" r="6.0" fill="#000"/>
<circle cx="470.00" cy="313.75" r="6.0" fill="#fff"/>
<circle cx="473.75" cy="312.50" r="6.0" fill="#fff"/>
<circle cx="474.00" cy="322.50" r="6.0" fill="#000"/>
<circle cx="480.60" cy="323.00" r="6.0" fill="#fff"/>
<circle cx="483.75" cy="308.75" r="6.0" fill="#000"/>
<circle cx="486.25" cy="314.40" r="6.0" fill="#fff"/>
<circle cx="488.75" cy="326.25" r="6.0" fill="#000"/>
<circle cx="490.60" cy="319.40" r="6.0" fill="#fff"/>
<circle cx="493.75" cy="318.00" r="6.0" fill="#fff"/>
<circle cx="497.50" cy="320.00" r="6.0" fill="#000"/>
<circle cx="501.25" cy="326.00" r="6.0" fill="#fff"/>
<circle cx="502.50" cy="332.50" r="6.0" fill="#000"/>
<circle cx="505.00" cy="332.50" r="6.0" fill="#000"/>
<circle cx="508.00" cy="332.00" r="6.0" fill="#fff"/>
<circle cx="510.00" cy="314.40" r="6.0" fill="#fff"/>
<circle cx="513.75" cy="318.75" r="6.0" fill="#000"/>
<circle cx="516.90" cy="329.40" r="6.0" fill="#fff"/>
<circle cx="520.00" cy="313.75" r="6.0" fill="#000"/>
<circle cx="521.90" cy="330.60" r="6.0" fill="#fff"/>
<circle cx="525.60" cy="326.90" r="6.0" fill="#fff"/>
<circle cx="528.75" cy="310.00" r="6.0" fill="#000"/>
<circle cx="529.40" cy="317.50" r="6.0" fill="#000"/>
<circle cx="533.75" cy="321.25" r="6.0" fill="#fff"/>
<circle cx="535.25" cy="329.40" r="6.0" fill="#fff"/>
<circle cx="540.00" cy="316.90" r="6.0" fill="#fff"/>
<circle cx="543.75" cy="326.25" r="6.0" fill="#000"/>
<circle cx="545.00" cy="335.00" r="6.0" fill="#000"/>
<circle cx="551.25" cy="333.00" r="6.0" fill="#000"/>
<circle cx="557.50" cy="371.90" r="6.0" fill="#fff"/>
<circle cx="561.25" cy="343.00" r="6.0" fill="#fff"/>
<circle cx="565.00" cy="337.25" r="6.0" fill="#fff"/>
<circle cx="570.00" cy="329.40" r="6.0" fill="#000"/>
<circle cx="571.90" cy="317.50" r="6.0" fill="#000"/>
<circle cx="578.75" cy="319.40" r="6.0" fill="#fff"/>
<circle cx="582.25" cy="306.25" r="6.0" fill="#fff"/>
<circle cx="585.00" cy="331.90" r="6.0" fill="#000"/>
<circle cx="593.00" cy="325.60" r="6.0" fill="#fff"/>
<circle cx="595.00" cy="319.00" r="6.0" fill="#fff"/>
<circle cx="598.00" cy="333.00" r="6.0" fill="#fff"/>
<circle cx="604.40" cy="300.00" r="6.0" fill="#000"/>
<circle cx="606.00" cy="304.40" r="6.0" fill="#000"/>
<circle cx="608.00" cy="328.00" r="6.0" fill="#000"/>
<circle cx="619.60" cy="341.25" r="6.0" fill="#fff"/>
<circle cx="621.90" cy="323.75" r="6.0" fill="#fff"/>
<circle cx="623.75" cy="317.00" r="6.0" fill="#fff"/>
<circle cx="636.25" cy="286.25" r="6.0" fill="#000"/>
<circle cx="636.90" cy="295.00" r="6.0" fill="#000"/>
<circle cx="649.40" cy="400.00" r="6.0" fill="#fff"/>
<circle cx="652.50" cy="391.90" r="6.0" fill="#fff"/>
<circle cx="655.00" cy="371.90" r="6.0" fill="#fff"/>
<circle cx="663.00" cy="342.75" r="6.0" fill="#000"/>
<circle cx="670.00" cy="297.25" r="6.0" fill="#000"/>
<circle cx="673.00" cy="309.40" r="6.0" fill="#000"/>
<circle cx="681.25" cy="323.00" r="6.0" fill="#fff"/>
<circle cx="683.75" cy="322.25" r="6.0" fill="#fff"/>
<circle cx="686.25" cy="310.60" r="6.0" fill="#fff"/>
<circle cx="695.00" cy="377.50" r="6.0" fill="#000"/>
<circle cx="696.90" cy="382.50" r="6.0" fill="#000"/>
<circle cx="699.40" cy="364.40" r="6.0" fill="#000"/>
<circle cx="708.75" cy="362.75" r="6.0" fill="#fff"/>
<circle cx="711.50" cy="380.00" r="6.0" fill="#fff"/>
<circle cx="714.00" cy="391.25" r="6.0" fill="#fff"/>
<circle cx="725.00" cy="356.90" r="6.0" fill="#000"/>
<circle cx="730.00" cy="356.25" r="6.0" fill="#000"/>
<circle cx="737.50" cy="361.90" r="6.0" fill="#fff"/>
<circle cx="740.60" cy="363.00" r="6.0" fill="#fff"/>
<circle cx="742.50" cy="368.00" r="6.0" fill="#fff"/>
<circle cx="747.50" cy="388.75" r="6.0" fill="#000"/>
<circle cx="757.50" cy="367.50" r="6.0" fill="#fff"/>
<circle cx="759.40" cy="374.00" r="6.0" fill="#fff"/>
<circle cx="765.60" cy="377.50" r="6.0" fill="#000"/>
<circle cx="767.50" cy="388.75" r="6.0" fill="#000"/>
<circle cx="773.75" cy="373.75" r="6.0" fill="#000"/>
<circle cx="776.25" cy="382.00" r="6.0" fill="#000"/>
<circle cx="779.40" cy="390.00" r="6.0" fill="#000"/>
<circle cx="781.25" cy="388.75" r="6.0" fill="#000"/>
<circle cx="783.75" cy="368.00" r="6.0" fill="#fff"/>
<circle cx="785.60" cy="370.60" r="6.0" fill="#fff"/>
<circle cx="790.25" cy="363.75" r="6.0" fill="#fff"/>
<circle cx="792.50" cy="375.60" r="6.0" fill="#000"/>
<circle cx="802.00" cy="398.75" r="6.0" fill="#000"/>
<circle cx="811.90" cy="408.50" r="6.0" fill="#fff"/>
<circle cx="814.40" cy="419.40" r="6.0" fill="#fff"/>
<circle cx="832.50" cy="461.25" r="6.0" fill="#000"/>
<circle cx="835.00" cy="450.60" r="6.0" fill="#000"/>
<circle cx="844.00" cy="342.00" r="6.0" fill="#fff"/>
<circle cx="846.50" cy="347.50" r="6.0" fill="#fff"/>
<circle cx="853.75" cy="318.75" r="6.0" fill="#000"/>
<circle cx="857.50" cy="325.00" r="6.0" fill="#000"/>
<circle cx="869.40" cy="340.60" r="6.0" fill="#fff"/>
<circle cx="873.50" cy="315.25" r="6.0" fill="#fff"/>
<circle cx="876.00" cy="332.00" r="6.0" fill="#fff"/>
<circle cx="885.60" cy="344.40" r="6.0" fill="#000"/>
<circle cx="890.00" cy="353.75" r="6.0" fill="#000"/>
<circle cx="891.25" cy="345.00" r="6.0" fill="#000"/>
<circle cx="897.50" cy="353.75" r="6.0" fill="#fff"/>
<circle cx="900.00" cy="340.00" r="6.0" fill="#fff"/>
<circle cx="909.40" cy="318.75" r="6.0" fill="#000"/>
<circle cx="911.25" cy="314.40" r="6.0" fill="#000"/>
<circle cx="918.00" cy="349.40" r="6.0" fill="#fff"/>
<circle cx="920.00" cy="332.50" r="6.0" fill="#fff"/>
<circle cx="922.25" cy="338.00" r="6.0" fill="#fff"/>
<circle cx="928.00" cy="305.00" r="6.0" fill="#000"/>
<circle cx="929.40" cy="310.60" r="6.0" fill="#fff"/>
<circle cx="931.90" cy="318.75" r="6.0" fill="#000"/>
<circle cx="932.50" cy="329.40" r="6.0" fill="#fff"/>
<circle cx="934.40" cy="332.50" r="6.0" fill="#000"/>
<circle cx="936.90" cy="338.00" r="6.0" fill="#fff"/>
<circle cx="939.40" cy="313.00" r="6.0" fill="#000"/>
<circle cx="941.60" cy="344.40" r="6.0" fill="#fff"/>
<circle cx="952.25" cy="357.75" r="6.0" fill="#000"/>
<circle cx="955.60" cy="341.90" r="6.0" fill="#fff"/>
<circle cx="960.00" cy="346.25" r="6.0" fill="#000"/>
<circle cx="962.50" cy="338.75" r="6.0" fill="#fff"/>
<circle cx="966.25" cy="334.40" r="6.0" fill="#000"/>
<circle cx="968.00" cy="318.00" r="6.0" fill="#fff"/>
<circle cx="971.25" cy="310.00" r="6.0" fill="#000"/>
<circle cx="972.50" cy="315.00" r="6.0" fill="#fff"/>
<circle cx="977.50" cy="311.25" r="6.0" fill="#000"/>
<circle cx="986.25" cy="337.75" r="6.0" fill="#fff"/>
<circle cx="992.75" cy="312.25" r="6.0" fill="#fff"/>
<circle cx="994.40" cy="323.00" r="6.0" fill="#fff"/>
<circle cx="1005.60" cy="314.40" r="6.0" fill="#000"/>
<circle cx="1010.00" cy="336.90" r="6.0" fill="#000"/>
<circle cx="1013.00" cy="331.25" r="6.0" fill="#000"/>
<circle cx="1015.00" cy="319.40" r="6.0" fill="#000"/>
<circle cx="1023.00" cy="346.25" r="6.0" fill="#fff"/>
<circle cx="1025.60" cy="363.00" r="6.0" fill="#fff"/>
<circle cx="1039.40" cy="323.00" r="6.0" fill="#000"/>
<circle cx="1043.00" cy="306.90" r="6.0" fill="#000"/>
<circle cx="1056.25" cy="282.50" r="6.0" fill="#fff"/>
<circle cx="1060.00" cy="259.75" r="6.0" fill="#fff"/>
<circle cx="1065.60" cy="275.00" r="6.0" fill="#fff"/>
<circle cx="1071.90" cy="280.00" r="6.0" fill="#000"/>
<circle cx="1075.60" cy="269.40" r="6.0" fill="#000"/>
<circle cx="1080.60" cy="328.00" r="6.0" fill="#fff"/>
<circle cx="1084.00" cy="320.30" r="6.0" fill="#fff"/>
<circle cx="1087.00" cy="325.00" r="6.0" fill="#000"/>
<circle cx="1090.40" cy="339.40" r="6.0" fill="#000"/>
<circle cx="1095.60" cy="375.00" r="6.0" fill="#fff"/>
<circle cx="1098.50" cy="361.00" r="6.0" fill="#fff"/>
<circle cx="1101.90" cy="381.90" r="6.0" fill="#fff"/>
<circle cx="1106.25" cy="380.60" r="6.0" fill="#000"/>
<circle cx="1110.00" cy="386.25" r="6.0" fill="#fff"/>
<circle cx="1119.40" cy="393.75" r="6.0" fill="#000"/>
<circle cx="1121.90" cy="386.90" r="6.0" fill="#000"/>
<circle cx="1125.80" cy="355.25" r="6.0" fill="#000"/>
<circle cx="1131.90" cy="376.25" r="6.0" fill="#fff"/>
<circle cx="1135.00" cy="372.50" r="6.0" fill="#fff"/>
<circle cx="1138.00" cy="330.00" r="6.0" fill="#fff"/>
<circle cx="1143.50" cy="335.00" r="6.0" fill="#000"/>
<circle cx="1145.60" cy="353.50" r="6.0" fill="#000"/>
<circle cx="1147.75" cy="370.00" r="6.0" fill="#000"/>
<circle cx="1156.80" cy="317.50" r="6.0" fill="#fff"/>
<circle cx="1158.50" cy="323.50" r="6.0" fill="#fff"/>
<circle cx="1168.00" cy="374.40" r="6.0" fill="#000"/>
<circle cx="1173.00" cy="371.25" r="6.0" fill="#000"/>
<circle cx="1182.70" cy="323.00" r="6.0" fill="#fff"/>
<circle cx="1186.25" cy="292.50" r="6.0" fill="#000"/>
<circle cx="1188.75" cy="301.25" r="6.0" fill="#000"/>
<circle cx="1194.75" cy="311.25" r="6.0" fill="#fff"/>
<circle cx="1195.00" cy="301.25" r="6.0" fill="#000"/>
<circle cx="1196.25" cy="318.00" r="6.0" fill="#fff"/>
<circle cx="1200.00" cy="300.00" r="6.0" fill="#000"/>
<circle cx="1201.25" cy="291.25" r="6.0" fill="#fff"/>
<circle cx="1205.25" cy="291.25" r="6.0" fill="#000"/>
</g>
<g stroke="#000" stroke-width="1.5">
<circle cx="138.00" cy="686.30" r="3.1" fill="#000"/>
<circle cx="138.70" cy="686.30" r="3.1" fill="#000"/>
<circle cx="138.90" cy="686.30" r="3.1" fill="#000"/>
<circle cx="140.30" cy="686.30" r="3.1" fill="#000"/>
<circle cx="142.40" cy="686.30" r="3.1" fill="#000"/>
<circle cx="148.75" cy="686.30" r="3.1" fill="#fff"/>
<circle cx="152.00" cy="686.30" r="3.1" fill="#fff"/>
<circle cx="154.40" cy="686.30" r="3.1" fill="#000"/>
<circle cx="158.00" cy="686.30" r="3.1" fill="#000"/>
<circle cx="159.00" cy="686.30" r="3.1" fill="#000"/>
<circle cx="165.60" cy="686.30" r="3.1" fill="#fff"/>
<circle cx="169.00" cy="686.30" r="3.1" fill="#fff"/>
<circle cx="170.00" cy="686.30" r="3.1" fill="#fff"/>
<circle cx="175.00" cy="686.30" r="3.1" fill="#000"/>
<circle cx="177.50" cy="686.30" r="3.1" fill="#000"/>
<circle cx="180.60" cy="686.30" r="3.1" fill="#000"/>
<circle cx="183.00" cy="686.30" r="3.1" fill="#fff"/>
<circle cx="186.25" cy="686.30" r="3.1" fill="#fff"/>
<circle cx="188.75" cy="686.30" r="3.1" fill="#fff"/>
<circle cx="193.00" cy="686.30" r="3.1" fill="#000"/>
<circle cx="195.60" cy="686.30" r="3.1" fill="#000"/>
<circle cx="199.40" cy="686.30" r="3.1" fill="#000"/>
<circle cx="206.25" cy="686.30" r="3.1" fill="#fff"/>
<circle cx="212.00" cy="686.30" r="3.1" fill="#fff"/>
<circle cx="216.25" cy="686.30" r="3.1" fill="#fff"/>
<circle cx="221.90" cy="686.30" r="3.1" fill="#000"/>
<circle cx="223.75" cy="686.30" r="3.1" fill="#000"/>
<circle cx="227.50" cy="686.30" r="3.1" fill="#000"/>
<circle cx="233.50" cy="686.30" r="3.1" fill="#fff"/>
<circle cx="235.60" cy="686.30" r="3.1" fill="#fff"/>
<circle cx="239.00" cy="686.30" r="3.1" fill="#fff"/>
<circle cx="250.25" cy="686.30" r="3.1" fill="#000"/>
<circle cx="254.00" cy="686.30" r="3.1" fill="#000"/>
<circle cx="262.50" cy="686.30" r="3.1" fill="#fff"/>
<circle cx="265.60" cy="686.30" r="3.1" fill="#fff"/>
<circle cx="276.90" cy="686.30" r="3.1" fill="#000"/>
<circle cx="278.60" cy="686.30" r="3.1" fill="#000"/>
<circle cx="282.50" cy="686.30" r="3.1" fill="#000"/>
<circle cx="291.25" cy="686.30" r="3.1" fill="#fff"/>
<circle cx="295.60" cy="686.30" r="3.1" fill="#fff"/>
<circle cx="299.40" cy="686.30" r="3.1" fill="#000"/>
<circle cx="301.50" cy="686.30" r="3.1" fill="#000"/>
<circle cx="303.75" cy="686.30" r="3.1" fill="#000"/>
<circle cx="310.00" cy="686.30" r="3.1" fill="#fff"/>
<circle cx="313.10" cy="686.30" r="3.1" fill="#fff"/>
<circle cx="317.75" cy="686.30" r="3.1" fill="#fff"/>
<circle cx="328.10" cy="686.30" r="3.1" fill="#000"/>
<circle cx="330.00" cy="686.30" r="3.1" fill="#000"/>
<circle cx="334.40" cy="686.30" r="3.1" fill="#000"/>
<circle cx="338.75" cy="686.30" r="3.1" fill="#fff"/>
<circle cx="343.50" cy="686.30" r="3.1" fill="#fff"/>
<circle cx="348.40" cy="686.30" r="3.1" fill="#fff"/>
<circle cx="356.00" cy="686.30" r="3.1" fill="#000"/>
<circle cx="360.60" cy="686.30" r="3.1" fill="#fff"/>
<circle cx="363.00" cy="686.30" r="3.1" fill="#fff"/>
<circle cx="366.25" cy="686.30" r="3.1" fill="#fff"/>
<circle cx="370.60" cy="686.30" r="3.1" fill="#000"/>
<circle cx="373.75" cy="686.30" r="3.1" fill="#000"/>
<circle cx="376.90" cy="686.30" r="3.1" fill="#fff"/>
<circle cx="380.00" cy="686.30" r="3.1" fill="#fff"/>
<circle cx="382.75" cy="686.30" r="3.1" fill="#fff"/>
<circle cx="389.40" cy="686.30" r="3.1" fill="#fff"/>
<circle cx="392.10" cy="686.30" r="3.1" fill="#000"/>
<circle cx="393.80" cy="686.30" r="3.1" fill="#fff"/>
<circle cx="396.50" cy="686.30" r="3.1" fill="#000"/>
<circle cx="398.10" cy="686.30" r="3.1" fill="#fff"/>
<circle cx="400.80" cy="686.30" r="3.1" fill="#000"/>
<circle cx="402.50" cy="686.30" r="3.1" fill="#fff"/>
<circle cx="405.20" cy="686.30" r="3.1" fill="#000"/>
<circle cx="406.90" cy="686.30" r="3.1" fill="#fff"/>
<circle cx="409.60" cy="686.30" r="3.1" fill="#000"/>
<circle cx="412.20" cy="686.30" r="3.1" fill="#fff"/>
<circle cx="414.90" cy="686.30" r="3.1" fill="#000"/>
<circle cx="415.70" cy="686.30" r="3.1" fill="#fff"/>
<circle cx="418.40" cy="686.30" r="3.1" fill="#000"/>
<circle cx="420.90" cy="686.30" r="3.1" fill="#fff"/>
<circle cx="423.60" cy="686.30" r="3.1" fill="#000"/>
<circle cx="425.30" cy="686.30" r="3.1" fill="#fff"/>
<circle cx="428.00" cy="686.30" r="3.1" fill="#000"/>
<circle cx="429.70" cy="686.30" r="3.1" fill="#fff"/>
<circle cx="432.40" cy="686.30" r="3.1" fill="#000"/>
<circle cx="436.70" cy="686.30" r="3.1" fill="#fff"/>
<circle cx="439.40" cy="686.30" r="3.1" fill="#000"/>
<circle cx="441.00" cy="686.30" r="3.1" fill="#fff"/>
<circle cx="443.40" cy="686.30" r="3.1" fill="#000"/>
<circle cx="447.20" cy="686.30" r="3.1" fill="#fff"/>
<circle cx="452.00" cy="686.30" r="3.1" fill="#000"/>
<circle cx="454.00" cy="686.30" r="3.1" fill="#000"/>
<circle cx="456.00" cy="686.30" r="3.1" fill="#000"/>
<circle cx="459.50" cy="686.30" r="3.1" fill="#fff"/>
<circle cx="462.20" cy="686.30" r="3.1" fill="#000"/>
<circle cx="463.90" cy="686.30" r="3.1" fill="#fff"/>
<circle cx="466.50" cy="686.30" r="3.1" fill="#fff"/>
<circle cx="466.60" cy="686.30" r="3.1" fill="#000"/>
<circle cx="469.20" cy="686.30" r="3.1" fill="#000"/>
<circle cx="470.90" cy="686.30" r="3.1" fill="#fff"/>
<circle cx="473.60" cy="686.30" r="3.1" fill="#000"/>
<circle cx="475.30" cy="686.30" r="3.1" fill="#fff"/>
<circle cx="478.00" cy="686.30" r="3.1" fill="#000"/>
<circle cx="480.50" cy="686.30" r="3.1" fill="#fff"/>
<circle cx="483.20" cy="686.30" r="3.1" fill="#000"/>
<circle cx="484.90" cy="686.30" r="3.1" fill="#fff"/>
<circle cx="487.60" cy="686.30" r="3.1" fill="#000"/>
<circle cx="489.30" cy="686.30" r="3.1" fill="#fff"/>
<circle cx="492.00" cy="686.30" r="3.1" fill="#000"/>
<circle cx="495.40" cy="686.30" r="3.1" fill="#fff"/>
<circle cx="498.10" cy="686.30" r="3.1" fill="#000"/>
<circle cx="501.90" cy="686.30" r="3.1" fill="#fff"/>
<circle cx="504.60" cy="686.30" r="3.1" fill="#000"/>
<circle cx="506.80" cy="686.30" r="3.1" fill="#fff"/>
<circle cx="509.50" cy="686.30" r="3.1" fill="#000"/>
<circle cx="510.30" cy="686.30" r="3.1" fill="#fff"/>
<circle cx="513.00" cy="686.30" r="3.1" fill="#000"/>
<circle cx="517.30" cy="686.30" r="3.1" fill="#fff"/>
<circle cx="520.00" cy="686.30" r="3.1" fill="#000"/>
<circle cx="521.70" cy="686.30" r="3.1" fill="#fff"/>
<circle cx="524.40" cy="686.30" r="3.1" fill="#000"/>
<circle cx="526.00" cy="686.30" r="3.1" fill="#fff"/>
<circle cx="528.70" cy="686.30" r="3.1" fill="#000"/>
<circle cx="530.90" cy="686.30" r="3.1" fill="#000"/>
<circle cx="535.70" cy="686.30" r="3.1" fill="#fff"/>
<circle cx="538.40" cy="686.30" r="3.1" fill="#000"/>
<circle cx="539.20" cy="686.30" r="3.1" fill="#fff"/>
<circle cx="541.90" cy="686.30" r="3.1" fill="#000"/>
<circle cx="544.10" cy="686.30" r="3.1" fill="#000"/>
<circle cx="546.60" cy="686.30" r="3.1" fill="#000"/>
<circle cx="548.90" cy="686.30" r="3.1" fill="#000"/>
<circle cx="551.25" cy="686.30" r="3.1" fill="#000"/>
<circle cx="553.50" cy="686.30" r="3.1" fill="#000"/>
<circle cx="557.50" cy="686.30" r="3.1" fill="#fff"/>
<circle cx="561.25" cy="686.30" r="3.1" fill="#fff"/>
<circle cx="565.00" cy="686.30" r="3.1" fill="#fff"/>
<circle cx="570.00" cy="686.30" r="3.1" fill="#000"/>
<circle cx="571.90" cy="686.30" r="3.1" fill="#000"/>
<circle cx="578.75" cy="686.30" r="3.1" fill="#fff"/>
<circle cx="582.25" cy="686.30" r="3.1" fill="#fff"/>
<circle cx="585.00" cy="686.30" r="3.1" fill="#000"/>
<circle cx="593.00" cy="686.30" r="3.1" fill="#fff"/>
<circle cx="595.00" cy="686.30" r="3.1" fill="#fff"/>
<circle cx="598.00" cy="686.30" r="3.1" fill="#fff"/>
<circle cx="604.40" cy="686.30" r="3.1" fill="#000"/>
<circle cx="606.00" cy="686.30" r="3.1" fill="#000"/>
<circle cx="608.00" cy="686.30" r="3.1" fill="#000"/>
<circle cx="619.60" cy="686.30" r="3.1" fill="#fff"/>
<circle cx="621.90" cy="686.30" r="3.1" fill="#fff"/>
<circle cx="623.75" cy="686.30" r="3.1" fill="#fff"/>
<circle cx="634.80" cy="686.30" r="3.1" fill="#000"/>
<circle cx="636.25" cy="686.30" r="3.1" fill="#000"/>
<circle cx="636.90" cy="686.30" r="3.1" fill="#000"/>
<circle cx="638.60" cy="686.30" r="3.1" fill="#000"/>
<circle cx="649.40" cy="686.30" r="3.1" fill="#fff"/>
<circle cx="652.50" cy="686.30" r="3.1" fill="#fff"/>
<circle cx="655.00" cy="686.30" r="3.1" fill="#fff"/>
<circle cx="663.00" cy="686.30" r="3.1" fill="#000"/>
<circle cx="670.00" cy="686.30" r="3.1" fill="#000"/>
<circle cx="673.00" cy="686.30" r="3.1" fill="#000"/>
<circle cx="681.25" cy="686.30" r="3.1" fill="#fff"/>
<circle cx="683.75" cy="686.30" r="3.1" fill="#fff"/>
<circle cx="686.25" cy="686.30" r="3.1" fill="#fff"/>
<circle cx="695.00" cy="686.30" r="3.1" fill="#000"/>
<circle cx="696.90" cy="686.30" r="3.1" fill="#000"/>
<circle cx="699.40" cy="686.30" r="3.1" fill="#000"/>
<circle cx="708.75" cy="686.30" r="3.1" fill="#fff"/>
<circle cx="711.50" cy="686.30" r="3.1" fill="#fff"/>
<circle cx="714.00" cy="686.30" r="3.1" fill="#fff"/>
<circle cx="725.00" cy="686.30" r="3.1" fill="#000"/>
<circle cx="730.00" cy="686.30" r="3.1" fill="#000"/>
<circle cx="737.50" cy="686.30" r="3.1" fill="#fff"/>
<circle cx="740.60" cy="686.30" r="3.1" fill="#fff"/>
<circle cx="742.50" cy="686.30" r="3.1" fill="#fff"/>
<circle cx="747.50" cy="686.30" r="3.1" fill="#000"/>
<circle cx="757.50" cy="686.30" r="3.1" fill="#fff"/>
<circle cx="759.40" cy="686.30" r="3.1" fill="#fff"/>
<circle cx="765.60" cy="686.30" r="3.1" fill="#000"/>
<circle cx="767.50" cy="686.30" r="3.1" fill="#000"/>
<circle cx="773.75" cy="686.30" r="3.1" fill="#000"/>
<circle cx="776.25" cy="686.30" r="3.1" fill="#000"/>
<circle cx="779.40" cy="686.30" r="3.1" fill="#000"/>
<circle cx="781.25" cy="686.30" r="3.1" fill="#000"/>
<circle cx="783.75" cy="686.30" r="3.1" fill="#fff"/>
<circle cx="785.60" cy="686.30" r="3.1" fill="#fff"/>
<circle cx="790.25" cy="686.30" r="3.1" fill="#fff"/>
<circle cx="792.50" cy="686.30" r="3.1" fill="#000"/>
<circle cx="802.00" cy="686.30" r="3.1" fill="#000"/>
<circle cx="811.90" cy="686.30" r="3.1" fill="#fff"/>
<circle cx="814.40" cy="686.30" r="3.1" fill="#fff"/>
<circle cx="832.50" cy="686.30" r="3.1" fill="#000"/>
<circle cx="835.00" cy="686.30" r="3.1" fill="#000"/>
<circle cx="844.00" cy="686.30" r="3.1" fill="#fff"/>
<circle cx="846.50" cy="686.30" r="3.1" fill="#fff"/>
<circle cx="853.75" cy="686.30" r="3.1" fill="#000"/>
<circle cx="857.50" cy="686.30" r="3.1" fill="#000"/>
<circle cx="869.40" cy="686.30" r="3.1" fill="#fff"/>
<circle cx="873.50" cy="686.30" r="3.1" fill="#fff"/>
<circle cx="876.00" cy="686.30" r="3.1" fill="#fff"/>
<circle cx="885.60" cy="686.30" r="3.1" fill="#000"/>
<circle cx="890.00" cy="686.30" r="3.1" fill="#000"/>
<circle cx="891.25" cy="686.30" r="3.1" fill="#000"/>
<circle cx="897.50" cy="686.30" r="3.1" fill="#fff"/>
<circle cx="900.00" cy="686.30" r="3.1" fill="#fff"/>
<circle cx="909.40" cy="686.30" r="3.1" fill="#000"/>
<circle cx="911.25" cy="686.30" r="3.1" fill="#000"/>
<circle cx="918.00" cy="686.30" r="3.1" fill="#fff"/>
<circle cx="920.00" cy="686.30" r="3.1" fill="#fff"/>
<circle cx="922.25" cy="686.30" r="3.1" fill="#fff"/>
<circle cx="928.00" cy="686.30" r="3.1" fill="#000"/>
<circle cx="929.40" cy="686.30" r="3.1" fill="#fff"/>
<circle cx="931.90" cy="686.30" r="3.1" fill="#000"/>
<circle cx="932.50" cy="686.30" r="3.1" fill="#fff"/>
<circle cx="934.40" cy="686.30" r="3.1" fill="#000"/>
<circle cx="936.90" cy="686.30" r="3.1" fill="#fff"/>
<circle cx="939.40" cy="686.30" r="3.1" fill="#000"/>
<circle cx="941.60" cy="686.30" r="3.1" fill="#fff"/>
<circle cx="952.25" cy="686.30" r="3.1" fill="#000"/>
<circle cx="955.60" cy="686.30" r="3.1" fill="#fff"/>
<circle cx="960.00" cy="686.30" r="3.1" fill="#000"/>
<circle cx="962.50" cy="686.30" r="3.1" fill="#fff"/>
<circle cx="966.25" cy="686.30" r="3.1" fill="#000"/>
<circle cx="968.00" cy="686.30" r="3.1" fill="#fff"/>
<circle cx="971.25" cy="686.30" r="3.1" fill="#000"/>
<circle cx="972.50" cy="686.30" r="3.1" fill="#fff"/>
<circle cx="977.50" cy="686.30" r="3.1" fill="#000"/>
<circle cx="986.25" cy="686.30" r="3.1" fill="#fff"/>
<circle cx="992.75" cy="686.30" r="3.1" fill="#fff"/>
<circle cx="994.40" cy="686.30" r="3.1" fill="#fff"/>
<circle cx="1005.60" cy="686.30" r="3.1" fill="#000"/>
<circle cx="1010.00" cy="686.30" r="3.1" fill="#000"/>
<circle cx="1013.00" cy="686.30" r="3.1" fill="#000"/>
<circle cx="1015.00" cy="686.30" r="3.1" fill="#000"/>
<circle cx="1023.00" cy="686.30" r="3.1" fill="#fff"/>
<circle cx="1025.60" cy="686.30" r="3.1" fill="#fff"/>
<circle cx="1039.40" cy="686.30" r="3.1" fill="#000"/>
<circle cx="1043.00" cy="686.30" r="3.1" fill="#000"/>
<circle cx="1056.25" cy="686.30" r="3.1" fill="#fff"/>
<circle cx="1060.00" cy="686.30" r="3.1" fill="#fff"/>
<circle cx="1065.60" cy="686.30" r="3.1" fill="#fff"/>
<circle cx="1071.90" cy="686.30" r="3.1" fill="#000"/>
<circle cx="1075.60" cy="686.30" r="3.1" fill="#000"/>
<circle cx="1080.60" cy="686.30" r="3.1" fill="#fff"/>
<circle cx="1084.00" cy="686.30" r="3.1" fill="#fff"/>
<circle cx="1087.00" cy="686.30" r="3.1" fill="#000"/>
<circle cx="1090.40" cy="686.30" r="3.1" fill="#000"/>
<circle cx="1095.60" cy="686.30" r="3.1" fill="#fff"/>
<circle cx="1098.50" cy="686.30" r="3.1" fill="#fff"/>
<circle cx="1101.90" cy="686.30" r="3.1" fill="#fff"/>
<circle cx="1106.25" cy="686.30" r="3.1" fill="#000"/>
<circle cx="1110.00" cy="686.30" r="3.1" fill="#fff"/>
<circle cx="1119.40" cy="686.30" r="3.1" fill="#000"/>
<circle cx="1121.90" cy="686.30" r="3.1" fill="#000"/>
<circle cx="1125.80" cy="686.30" r="3.1" fill="#000"/>
<circle cx="1131.90" cy="686.30" r="3.1" fill="#fff"/>
<circle cx="1135.00" cy="686.30" r="3.1" fill="#fff"/>
<circle cx="1138.00" cy="686.30" r="3.1" fill="#fff"/>
<circle cx="1143.50" cy="686.30" r="3.1" fill="#000"/>
<circle cx="1145.60" cy="686.30" r="3.1" fill="#000"/>
<circle cx="1147.75" cy="686.30" r="3.1" fill="#000"/>
<circle cx="1156.80" cy="686.30" r="3.1" fill="#fff"/>
<circle cx="1158.50" cy="686.30" r="3.1" fill="#fff"/>
<circle cx="1168.00" cy="686.30" r="3.1" fill="#000"/>
<circle cx="1173.00" cy="686.30" r="3.1" fill="#000"/>
<circle cx="1182.70" cy="686.30" r="3.1" fill="#fff"/>
<circle cx="1186.25" cy="686.30" r="3.1" fill="#000"/>
<circle cx="1188.75" cy="686.30" r="3.1" fill="#000"/>
<circle cx="1194.75" cy="686.30" r="3.1" fill="#fff"/>
<circle cx="1195.00" cy="686.30" r="3.1" fill="#000"/>
<circle cx="1196.25" cy="686.30" r="3.1" fill="#fff"/>
<circle cx="1200.00" cy="686.30" r="3.1" fill="#000"/>
<circle cx="1201.25" cy="686.30" r="3.1" fill="#fff"/>
<circle cx="1205.25" cy="686.30" r="3.1" fill="#000"/>
</g>
<g font-size="13.2" fill="#000" text-anchor="middle" stroke="#000" stroke-width="0.45">
<g transform="translate(154.10 657.70) rotate(-90) scale(1 1.045)" fill="#000" stroke="#000" stroke-width="0.45" font-size="13.2" text-anchor="start" style="font-kerning:none"><text x="-16.15" y="0" xml:space="preserve">G</text><path transform="translate(-5.88 0) scale(0.01320)" stroke-width="13.64" d="M104 -498 L104 -556 C190 -556 258 -590 290 -692 L354 -692 L354 0 L276 0 L276 -498 Z"/><text x="1.46" y="0" xml:space="preserve">35</text></g>
<text transform="translate(171.00 657.7) rotate(-90) scale(1 1.045)">H2O2</text>
<text transform="translate(188.40 657.7) rotate(-90) scale(1 1.045)">Oxctl</text>
<g transform="translate(211.00 657.70) rotate(-90) scale(1 1.045)" fill="#000" stroke="#000" stroke-width="0.45" font-size="13.2" text-anchor="start" style="font-kerning:none"><text x="-16.15" y="0" xml:space="preserve">dia</text><path transform="translate(1.47 0) scale(0.01320)" stroke-width="13.64" d="M104 -498 L104 -556 C190 -556 258 -590 290 -692 L354 -692 L354 0 L276 0 L276 -498 Z"/><text x="8.81" y="0" xml:space="preserve">5</text></g>
<text transform="translate(238.00 657.7) rotate(-90) scale(1 1.045)">dia5</text>
<text transform="translate(268.00 657.7) rotate(-90) scale(1 1.045)">C30</text>
<text transform="translate(296.25 657.7) rotate(-90) scale(1 1.045)">LPh</text>
<text transform="translate(313.70 657.7) rotate(-90) scale(1 1.045)">aero</text>
<text transform="translate(343.60 657.7) rotate(-90) scale(1 1.045)">ferm</text>
<text transform="translate(366.00 657.7) rotate(-90) scale(1 1.045)">M9−tran</text>
<g transform="translate(383.10 657.70) rotate(-90) scale(1 1.045)" fill="#000" stroke="#000" stroke-width="0.45" font-size="13.2" text-anchor="start" style="font-kerning:none"><text x="-25.50" y="0" xml:space="preserve">MG+</text><path transform="translate(3.47 0) scale(0.01320)" stroke-width="13.64" d="M104 -498 L104 -556 C190 -556 258 -590 290 -692 L354 -692 L354 0 L276 0 L276 -498 Z"/><text x="10.82" y="0" xml:space="preserve">20</text></g>
<text transform="translate(397.00 657.7) rotate(-90) scale(1 1.045)">MG+60</text>
<text transform="translate(401.25 657.7) rotate(-90) scale(1 1.045)">MG+90</text>
<text transform="translate(405.50 657.7) rotate(-90) scale(1 1.045)">MG+t5</text>
<text transform="translate(409.75 657.7) rotate(-90) scale(1 1.045)">MG+25</text>
<g transform="translate(414.00 657.70) rotate(-90) scale(1 1.045)" fill="#000" stroke="#000" stroke-width="0.45" font-size="13.2" text-anchor="start" style="font-kerning:none"><text x="-21.83" y="0" xml:space="preserve">MG+</text><path transform="translate(7.14 0) scale(0.01320)" stroke-width="13.64" d="M104 -498 L104 -556 C190 -556 258 -590 290 -692 L354 -692 L354 0 L276 0 L276 -498 Z"/><text x="14.49" y="0" xml:space="preserve">5</text></g>
<text transform="translate(418.25 657.7) rotate(-90) scale(1 1.045)">MG+45</text>
<text transform="translate(422.50 657.7) rotate(-90) scale(1 1.045)">MG+5</text>
<g transform="translate(426.75 657.70) rotate(-90) scale(1 1.045)" fill="#000" stroke="#000" stroke-width="0.45" font-size="13.2" text-anchor="start" style="font-kerning:none"><text x="-21.83" y="0" xml:space="preserve">MG+</text><path transform="translate(7.14 0) scale(0.01320)" stroke-width="13.64" d="M104 -498 L104 -556 C190 -556 258 -590 290 -692 L354 -692 L354 0 L276 0 L276 -498 Z"/><text x="14.49" y="0" xml:space="preserve">0</text></g>
<text transform="translate(431.00 657.7) rotate(-90) scale(1 1.045)">MG+t5</text>
<g transform="translate(441.80 657.70) rotate(-90) scale(1 1.045)" fill="#000" stroke="#000" stroke-width="0.45" font-size="13.2" text-anchor="start" style="font-kerning:none"><text x="-23.66" y="0" xml:space="preserve">MG−0.</text><path transform="translate(16.32 0) scale(0.01320)" stroke-width="13.64" d="M104 -498 L104 -556 C190 -556 258 -590 290 -692 L354 -692 L354 0 L276 0 L276 -498 Z"/></g>
<text transform="translate(447.00 657.7) rotate(-90) scale(1 1.045)">MG−0.2</text>
<text transform="translate(452.00 657.7) rotate(-90) scale(1 1.045)">Fru</text>
<g transform="translate(462.50 657.70) rotate(-90) scale(1 1.045)" fill="#000" stroke="#000" stroke-width="0.45" font-size="13.2" text-anchor="start" style="font-kerning:none"><text x="-23.66" y="0" xml:space="preserve">GM−0.</text><path transform="translate(16.32 0) scale(0.01320)" stroke-width="13.64" d="M104 -498 L104 -556 C190 -556 258 -590 290 -692 L354 -692 L354 0 L276 0 L276 -498 Z"/></g>
<text transform="translate(468.10 657.7) rotate(-90) scale(1 1.045)">GM−0.2</text>
<text transform="translate(475.40 657.7) rotate(-90) scale(1 1.045)">GM+5</text>
<g transform="translate(479.80 657.70) rotate(-90) scale(1 1.045)" fill="#000" stroke="#000" stroke-width="0.45" font-size="13.2" text-anchor="start" style="font-kerning:none"><text x="-21.83" y="0" xml:space="preserve">GM+</text><path transform="translate(7.14 0) scale(0.01320)" stroke-width="13.64" d="M104 -498 L104 -556 C190 -556 258 -590 290 -692 L354 -692 L354 0 L276 0 L276 -498 Z"/><text x="14.49" y="0" xml:space="preserve">5</text></g>
<text transform="translate(485.00 657.7) rotate(-90) scale(1 1.045)">GM+45</text>
<text transform="translate(489.40 657.7) rotate(-90) scale(1 1.045)">GM+25</text>
<text transform="translate(493.80 657.7) rotate(-90) scale(1 1.045)">GM+60</text>
<text transform="translate(499.90 657.7) rotate(-90) scale(1 1.045)">GM+90</text>
<g transform="translate(506.40 657.70) rotate(-90) scale(1 1.045)" fill="#000" stroke="#000" stroke-width="0.45" font-size="13.2" text-anchor="start" style="font-kerning:none"><text x="-21.83" y="0" xml:space="preserve">GM+</text><path transform="translate(7.14 0) scale(0.01320)" stroke-width="13.64" d="M104 -498 L104 -556 C190 -556 258 -590 290 -692 L354 -692 L354 0 L276 0 L276 -498 Z"/><text x="14.49" y="0" xml:space="preserve">0</text></g>
<g transform="translate(512.80 657.70) rotate(-90) scale(1 1.045)" fill="#000" stroke="#000" stroke-width="0.45" font-size="13.2" text-anchor="start" style="font-kerning:none"><text x="-25.50" y="0" xml:space="preserve">GM+</text><path transform="translate(3.47 0) scale(0.01320)" stroke-width="13.64" d="M104 -498 L104 -556 C190 -556 258 -590 290 -692 L354 -692 L354 0 L276 0 L276 -498 Z"/><text x="10.82" y="0" xml:space="preserve">50</text></g>
<text transform="translate(521.80 657.7) rotate(-90) scale(1 1.045)">GM+60</text>
<text transform="translate(526.20 657.7) rotate(-90) scale(1 1.045)">GM+90</text>
<text transform="translate(530.50 657.7) rotate(-90) scale(1 1.045)">GM+25</text>
<text transform="translate(541.70 657.7) rotate(-90) scale(1 1.045)">M9−exp</text>
<text transform="translate(562.50 657.7) rotate(-90) scale(1 1.045)">Mal</text>
<text transform="translate(581.60 657.7) rotate(-90) scale(1 1.045)">Glu</text>
<text transform="translate(599.00 657.7) rotate(-90) scale(1 1.045)">BMM</text>
<text transform="translate(625.30 657.7) rotate(-90) scale(1 1.045)">Etha</text>
<text transform="translate(653.40 657.7) rotate(-90) scale(1 1.045)">Gly</text>
<text transform="translate(687.20 657.7) rotate(-90) scale(1 1.045)">HiOs</text>
<text transform="translate(713.40 657.7) rotate(-90) scale(1 1.045)">S2</text>
<text transform="translate(742.00 657.7) rotate(-90) scale(1 1.045)">S4</text>
<text transform="translate(760.90 657.7) rotate(-90) scale(1 1.045)">S5</text>
<text transform="translate(790.00 657.7) rotate(-90) scale(1 1.045)">S7</text>
<text transform="translate(817.00 657.7) rotate(-90) scale(1 1.045)">S6</text>
<text transform="translate(849.40 657.7) rotate(-90) scale(1 1.045)">B36</text>
<text transform="translate(875.00 657.7) rotate(-90) scale(1 1.045)">LoTm</text>
<text transform="translate(902.25 657.7) rotate(-90) scale(1 1.045)">G/S</text>
<text transform="translate(923.40 657.7) rotate(-90) scale(1 1.045)">SMMPr</text>
<text transform="translate(934.50 657.7) rotate(-90) scale(1 1.045)">T−4.40H</text>
<text transform="translate(938.50 657.7) rotate(-90) scale(1 1.045)">T−2.40H</text>
<g transform="translate(942.50 657.70) rotate(-90) scale(1 1.045)" fill="#000" stroke="#000" stroke-width="0.45" font-size="13.2" text-anchor="start" style="font-kerning:none"><text x="-25.50" y="0" xml:space="preserve">T−</text><path transform="translate(-9.73 0) scale(0.01320)" stroke-width="13.64" d="M104 -498 L104 -556 C190 -556 258 -590 290 -692 L354 -692 L354 0 L276 0 L276 -498 Z"/><text x="-2.38" y="0" xml:space="preserve">.</text><path transform="translate(1.28 0) scale(0.01320)" stroke-width="13.64" d="M104 -498 L104 -556 C190 -556 258 -590 290 -692 L354 -692 L354 0 L276 0 L276 -498 Z"/><text x="8.62" y="0" xml:space="preserve">0H</text></g>
<text transform="translate(946.50 657.7) rotate(-90) scale(1 1.045)">T0.0H</text>
<g transform="translate(962.40 657.70) rotate(-90) scale(1 1.045)" fill="#000" stroke="#000" stroke-width="0.45" font-size="13.2" text-anchor="start" style="font-kerning:none"><text x="-17.97" y="0" xml:space="preserve">T</text><path transform="translate(-9.91 0) scale(0.01320)" stroke-width="13.64" d="M104 -498 L104 -556 C190 -556 258 -590 290 -692 L354 -692 L354 0 L276 0 L276 -498 Z"/><text x="-2.57" y="0" xml:space="preserve">.0H</text></g>
<text transform="translate(967.80 657.7) rotate(-90) scale(1 1.045)">T2.0H</text>
<text transform="translate(973.20 657.7) rotate(-90) scale(1 1.045)">T3.0H</text>
<text transform="translate(978.70 657.7) rotate(-90) scale(1 1.045)">T4.0H</text>
<text transform="translate(992.20 657.7) rotate(-90) scale(1 1.045)">M9−stat</text>
<text transform="translate(1028.40 657.7) rotate(-90) scale(1 1.045)">Sw</text>
<text transform="translate(1060.80 657.7) rotate(-90) scale(1 1.045)">LBGstat</text>
<text transform="translate(1085.90 657.7) rotate(-90) scale(1 1.045)">M0t45</text>
<text transform="translate(1101.90 657.7) rotate(-90) scale(1 1.045)">Lbtran</text>
<text transform="translate(1115.00 657.7) rotate(-90) scale(1 1.045)">M40t45</text>
<text transform="translate(1137.50 657.7) rotate(-90) scale(1 1.045)">M0t90</text>
<text transform="translate(1161.90 657.7) rotate(-90) scale(1 1.045)">BI</text>
<text transform="translate(1188.00 657.7) rotate(-90) scale(1 1.045)">M0t45</text>
<text transform="translate(1200.00 657.7) rotate(-90) scale(1 1.045)">Lbexp</text>
<text transform="translate(1207.20 657.7) rotate(-90) scale(1 1.045)">Lbexp</text>
<g transform="translate(144.00 714.60) rotate(-90) scale(1 1.045)" fill="#000" stroke="#000" stroke-width="0.45" font-size="13.2" text-anchor="start" style="font-kerning:none"><text x="-16.15" y="0" xml:space="preserve">G</text><path transform="translate(-5.88 0) scale(0.01320)" stroke-width="13.64" d="M104 -498 L104 -556 C190 -556 258 -590 290 -692 L354 -692 L354 0 L276 0 L276 -498 Z"/><text x="1.46" y="0" xml:space="preserve">50</text></g>
<g transform="translate(160.00 714.60) rotate(-90) scale(1 1.045)" fill="#000" stroke="#000" stroke-width="0.45" font-size="13.2" text-anchor="start" style="font-kerning:none"><text x="-16.15" y="0" xml:space="preserve">G</text><path transform="translate(-5.88 0) scale(0.01320)" stroke-width="13.64" d="M104 -498 L104 -556 C190 -556 258 -590 290 -692 L354 -692 L354 0 L276 0 L276 -498 Z"/><text x="1.46" y="0" xml:space="preserve">80</text></g>
<text transform="translate(179.60 714.6) rotate(-90) scale(1 1.045)">Paraq</text>
<text transform="translate(197.80 714.6) rotate(-90) scale(1 1.045)">LBGexp</text>
<text transform="translate(227.25 714.6) rotate(-90) scale(1 1.045)">Diami</text>
<text transform="translate(255.00 714.6) rotate(-90) scale(1 1.045)">C90</text>
<text transform="translate(282.40 714.6) rotate(-90) scale(1 1.045)">Cold</text>
<text transform="translate(305.25 714.6) rotate(-90) scale(1 1.045)">HPh</text>
<text transform="translate(332.50 714.6) rotate(-90) scale(1 1.045)">nit</text>
<g transform="translate(361.50 714.60) rotate(-90) scale(1 1.045)" fill="#000" stroke="#000" stroke-width="0.45" font-size="13.2" text-anchor="start" style="font-kerning:none"><text x="-25.50" y="0" xml:space="preserve">GM+</text><path transform="translate(3.47 0) scale(0.01320)" stroke-width="13.64" d="M104 -498 L104 -556 C190 -556 258 -590 290 -692 L354 -692 L354 0 L276 0 L276 -498 Z"/><text x="10.82" y="0" xml:space="preserve">50</text></g>
<g transform="translate(377.50 714.60) rotate(-90) scale(1 1.045)" fill="#000" stroke="#000" stroke-width="0.45" font-size="13.2" text-anchor="start" style="font-kerning:none"><text x="-25.50" y="0" xml:space="preserve">MG+</text><path transform="translate(3.47 0) scale(0.01320)" stroke-width="13.64" d="M104 -498 L104 -556 C190 -556 258 -590 290 -692 L354 -692 L354 0 L276 0 L276 -498 Z"/><text x="10.82" y="0" xml:space="preserve">50</text></g>
<text transform="translate(392.00 714.6) rotate(-90) scale(1 1.045)">MG+90</text>
<text transform="translate(396.40 714.6) rotate(-90) scale(1 1.045)">MG+60</text>
<g transform="translate(400.80 714.60) rotate(-90) scale(1 1.045)" fill="#000" stroke="#000" stroke-width="0.45" font-size="13.2" text-anchor="start" style="font-kerning:none"><text x="-21.83" y="0" xml:space="preserve">MG+</text><path transform="translate(7.14 0) scale(0.01320)" stroke-width="13.64" d="M104 -498 L104 -556 C190 -556 258 -590 290 -692 L354 -692 L354 0 L276 0 L276 -498 Z"/><text x="14.49" y="0" xml:space="preserve">0</text></g>
<g transform="translate(405.20 714.60) rotate(-90) scale(1 1.045)" fill="#000" stroke="#000" stroke-width="0.45" font-size="13.2" text-anchor="start" style="font-kerning:none"><text x="-21.83" y="0" xml:space="preserve">MG+</text><path transform="translate(7.14 0) scale(0.01320)" stroke-width="13.64" d="M104 -498 L104 -556 C190 -556 258 -590 290 -692 L354 -692 L354 0 L276 0 L276 -498 Z"/><text x="14.49" y="0" xml:space="preserve">5</text></g>
<text transform="translate(409.60 714.6) rotate(-90) scale(1 1.045)">MG+25</text>
<text transform="translate(414.00 714.6) rotate(-90) scale(1 1.045)">MG+45</text>
<text transform="translate(418.40 714.6) rotate(-90) scale(1 1.045)">MG+5</text>
<text transform="translate(422.80 714.6) rotate(-90) scale(1 1.045)">MG+20</text>
<text transform="translate(427.20 714.6) rotate(-90) scale(1 1.045)">MG+30</text>
<text transform="translate(431.60 714.6) rotate(-90) scale(1 1.045)">MG+t5</text>
<g transform="translate(441.80 714.60) rotate(-90) scale(1 1.045)" fill="#000" stroke="#000" stroke-width="0.45" font-size="13.2" text-anchor="start" style="font-kerning:none"><text x="-18.53" y="0" xml:space="preserve">M9−t</text><path transform="translate(11.19 0) scale(0.01320)" stroke-width="13.64" d="M104 -498 L104 -556 C190 -556 258 -590 290 -692 L354 -692 L354 0 L276 0 L276 -498 Z"/></g>
<g transform="translate(447.00 714.60) rotate(-90) scale(1 1.045)" fill="#000" stroke="#000" stroke-width="0.45" font-size="13.2" text-anchor="start" style="font-kerning:none"><text x="-17.61" y="0" xml:space="preserve">UNK</text><path transform="translate(10.26 0) scale(0.01320)" stroke-width="13.64" d="M104 -498 L104 -556 C190 -556 258 -590 290 -692 L354 -692 L354 0 L276 0 L276 -498 Z"/></g>
<text transform="translate(457.50 714.6) rotate(-90) scale(1 1.045)">Glucon</text>
<g transform="translate(466.90 714.60) rotate(-90) scale(1 1.045)" fill="#000" stroke="#000" stroke-width="0.45" font-size="13.2" text-anchor="start" style="font-kerning:none"><text x="-23.66" y="0" xml:space="preserve">GM−0.</text><path transform="translate(16.32 0) scale(0.01320)" stroke-width="13.64" d="M104 -498 L104 -556 C190 -556 258 -590 290 -692 L354 -692 L354 0 L276 0 L276 -498 Z"/></g>
<text transform="translate(471.30 714.6) rotate(-90) scale(1 1.045)">GM+5</text>
<g transform="translate(474.50 714.60) rotate(-90) scale(1 1.045)" fill="#000" stroke="#000" stroke-width="0.45" font-size="13.2" text-anchor="start" style="font-kerning:none"><text x="-21.83" y="0" xml:space="preserve">GM+</text><path transform="translate(7.14 0) scale(0.01320)" stroke-width="13.64" d="M104 -498 L104 -556 C190 -556 258 -590 290 -692 L354 -692 L354 0 L276 0 L276 -498 Z"/><text x="14.49" y="0" xml:space="preserve">0</text></g>
<g transform="translate(478.30 714.60) rotate(-90) scale(1 1.045)" fill="#000" stroke="#000" stroke-width="0.45" font-size="13.2" text-anchor="start" style="font-kerning:none"><text x="-21.83" y="0" xml:space="preserve">GM+</text><path transform="translate(7.14 0) scale(0.01320)" stroke-width="13.64" d="M104 -498 L104 -556 C190 -556 258 -590 290 -692 L354 -692 L354 0 L276 0 L276 -498 Z"/><text x="14.49" y="0" xml:space="preserve">5</text></g>
<text transform="translate(482.70 714.6) rotate(-90) scale(1 1.045)">GM+25</text>
<text transform="translate(487.90 714.6) rotate(-90) scale(1 1.045)">GM+45</text>
<text transform="translate(492.30 714.6) rotate(-90) scale(1 1.045)">GM+60</text>
<text transform="translate(496.70 714.6) rotate(-90) scale(1 1.045)">GM+90</text>
<g transform="translate(502.50 714.60) rotate(-90) scale(1 1.045)" fill="#000" stroke="#000" stroke-width="0.45" font-size="13.2" text-anchor="start" style="font-kerning:none"><text x="-25.50" y="0" xml:space="preserve">GM+</text><path transform="translate(3.47 0) scale(0.01320)" stroke-width="13.64" d="M104 -498 L104 -556 C190 -556 258 -590 290 -692 L354 -692 L354 0 L276 0 L276 -498 Z"/><text x="10.82" y="0" xml:space="preserve">20</text></g>
<g transform="translate(507.50 714.60) rotate(-90) scale(1 1.045)" fill="#000" stroke="#000" stroke-width="0.45" font-size="13.2" text-anchor="start" style="font-kerning:none"><text x="-25.50" y="0" xml:space="preserve">GM+</text><path transform="translate(3.47 0) scale(0.01320)" stroke-width="13.64" d="M104 -498 L104 -556 C190 -556 258 -590 290 -692 L354 -692 L354 0 L276 0 L276 -498 Z"/><text x="10.82" y="0" xml:space="preserve">50</text></g>
<text transform="translate(514.20 714.6) rotate(-90) scale(1 1.045)">GM+60</text>
<text transform="translate(518.50 714.6) rotate(-90) scale(1 1.045)">GM+90</text>
<text transform="translate(524.70 714.6) rotate(-90) scale(1 1.045)">GM+25</text>
<text transform="translate(529.10 714.6) rotate(-90) scale(1 1.045)">GM+45</text>
<text transform="translate(533.20 714.6) rotate(-90) scale(1 1.045)">GM+5</text>
<text transform="translate(548.70 714.6) rotate(-90) scale(1 1.045)">M/G</text>
<text transform="translate(575.25 714.6) rotate(-90) scale(1 1.045)">Fru</text>
<text transform="translate(591.00 714.6) rotate(-90) scale(1 1.045)">SMM</text>
<text transform="translate(609.75 714.6) rotate(-90) scale(1 1.045)">Heat</text>
<text transform="translate(640.70 714.6) rotate(-90) scale(1 1.045)">Salt</text>
<text transform="translate(668.00 714.6) rotate(-90) scale(1 1.045)">HiTm</text>
<g transform="translate(700.70 714.60) rotate(-90) scale(1 1.045)" fill="#000" stroke="#000" stroke-width="0.45" font-size="13.2" text-anchor="start" style="font-kerning:none"><text x="-8.07" y="0" xml:space="preserve">S</text><path transform="translate(0.73 0) scale(0.01320)" stroke-width="13.64" d="M104 -498 L104 -556 C190 -556 258 -590 290 -692 L354 -692 L354 0 L276 0 L276 -498 Z"/></g>
<text transform="translate(730.30 714.6) rotate(-90) scale(1 1.045)">S3</text>
<text transform="translate(752.80 714.6) rotate(-90) scale(1 1.045)">S3</text>
<text transform="translate(771.00 714.6) rotate(-90) scale(1 1.045)">S6</text>
<text transform="translate(797.80 714.6) rotate(-90) scale(1 1.045)">S8</text>
<text transform="translate(837.50 714.6) rotate(-90) scale(1 1.045)">BT</text>
<text transform="translate(858.40 714.6) rotate(-90) scale(1 1.045)">B60</text>
<text transform="translate(888.75 714.6) rotate(-90) scale(1 1.045)">Pyr</text>
<text transform="translate(913.50 714.6) rotate(-90) scale(1 1.045)">Glucon</text>
<text transform="translate(933.60 714.6) rotate(-90) scale(1 1.045)">T−5.40H</text>
<text transform="translate(937.00 714.6) rotate(-90) scale(1 1.045)">T−3.40H</text>
<g transform="translate(940.30 714.60) rotate(-90) scale(1 1.045)" fill="#000" stroke="#000" stroke-width="0.45" font-size="13.2" text-anchor="start" style="font-kerning:none"><text x="-25.50" y="0" xml:space="preserve">T−</text><path transform="translate(-9.73 0) scale(0.01320)" stroke-width="13.64" d="M104 -498 L104 -556 C190 -556 258 -590 290 -692 L354 -692 L354 0 L276 0 L276 -498 Z"/><text x="-2.38" y="0" xml:space="preserve">.40H</text></g>
<text transform="translate(943.70 714.6) rotate(-90) scale(1 1.045)">T−0.40H</text>
<text transform="translate(957.20 714.6) rotate(-90) scale(1 1.045)">T0.30H</text>
<g transform="translate(963.40 714.60) rotate(-90) scale(1 1.045)" fill="#000" stroke="#000" stroke-width="0.45" font-size="13.2" text-anchor="start" style="font-kerning:none"><text x="-21.64" y="0" xml:space="preserve">T</text><path transform="translate(-13.58 0) scale(0.01320)" stroke-width="13.64" d="M104 -498 L104 -556 C190 -556 258 -590 290 -692 L354 -692 L354 0 L276 0 L276 -498 Z"/><text x="-6.24" y="0" xml:space="preserve">.30H</text></g>
<text transform="translate(969.70 714.6) rotate(-90) scale(1 1.045)">T2.30H</text>
<text transform="translate(975.90 714.6) rotate(-90) scale(1 1.045)">T3.30H</text>
<text transform="translate(982.20 714.6) rotate(-90) scale(1 1.045)">T5.0H</text>
<text transform="translate(1011.00 714.6) rotate(-90) scale(1 1.045)">BC</text>
<text transform="translate(1044.30 714.6) rotate(-90) scale(1 1.045)">LPhT</text>
<text transform="translate(1076.70 714.6) rotate(-90) scale(1 1.045)">LBGtran</text>
<text transform="translate(1092.00 714.6) rotate(-90) scale(1 1.045)">M40t45</text>
<text transform="translate(1111.25 714.6) rotate(-90) scale(1 1.045)">Mt0</text>
<text transform="translate(1124.40 714.6) rotate(-90) scale(1 1.045)">M40t90</text>
<text transform="translate(1148.75 714.6) rotate(-90) scale(1 1.045)">Lbstat</text>
<text transform="translate(1173.00 714.6) rotate(-90) scale(1 1.045)">S0</text>
<text transform="translate(1191.50 714.6) rotate(-90) scale(1 1.045)">dia0</text>
<text transform="translate(1205.30 714.6) rotate(-90) scale(1 1.045)">Mt0</text>
<text transform="translate(1210.30 714.6) rotate(-90) scale(1 1.045)">Mt0</text>
</g>
<g transform="translate(886.00 464.50)" fill="#00ff00" stroke="#00ff00" stroke-width="0.35" font-size="26.7" text-anchor="start" style="font-kerning:none"><text x="0.00" y="0" xml:space="preserve">clusters</text></g>
<g transform="translate(967.00 499.50)" fill="#00ff00" stroke="#00ff00" stroke-width="0.35" font-size="26.7" text-anchor="start" style="font-kerning:none"><text x="0.00" y="0" xml:space="preserve">A</text><path transform="translate(17.81 0) scale(0.02670)" stroke-width="5.24" d="M104 -498 L104 -556 C190 -556 258 -590 290 -692 L354 -692 L354 0 L276 0 L276 -498 Z"/><text x="32.66" y="0" xml:space="preserve">527 size: </text><path transform="translate(146.94 0) scale(0.02670)" stroke-width="5.24" d="M104 -498 L104 -556 C190 -556 258 -590 290 -692 L354 -692 L354 0 L276 0 L276 -498 Z"/></g>
<g transform="translate(967.00 531.50)" fill="#00ff00" stroke="#00ff00" stroke-width="0.35" font-size="26.7" text-anchor="start" style="font-kerning:none"><text x="0.00" y="0" xml:space="preserve">B52 size: 9</text></g>
<g transform="translate(967.00 563.70)" fill="#00ff00" stroke="#00ff00" stroke-width="0.35" font-size="26.7" text-anchor="start" style="font-kerning:none"><text x="0.00" y="0" xml:space="preserve">C3 size: </text><path transform="translate(103.87 0) scale(0.02670)" stroke-width="5.24" d="M104 -498 L104 -556 C190 -556 258 -590 290 -692 L354 -692 L354 0 L276 0 L276 -498 Z"/><text x="118.72" y="0" xml:space="preserve">383</text></g>
<g stroke="#00ff00" stroke-width="4.1" stroke-linecap="round" fill="none">
<path d="M894.8 490.6 H943" stroke-dasharray="0.01 13.3"/>
<path d="M894.8 522.5 H943" stroke-dasharray="9.6 16.65"/>
<path d="M894.8 554.6 H943"/>
</g>
</svg></body></html>
